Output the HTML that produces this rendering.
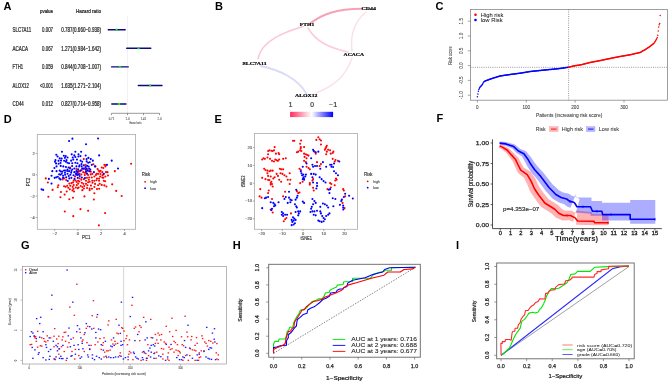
<!DOCTYPE html><html><head><meta charset="utf-8"><style>html,body{margin:0;padding:0;background:#fff;width:669px;height:382px;overflow:hidden}svg{display:block;filter:blur(0.3px)}text{font-family:"Liberation Sans",sans-serif}</style></head><body><svg width="669" height="382" viewBox="0 0 669 382"><text x="3.40" y="9.70" font-size="11" text-anchor="start" font-weight="bold" fill="#000" >A</text>
<text x="215.00" y="9.90" font-size="11" text-anchor="start" font-weight="bold" fill="#000" >B</text>
<text x="435.60" y="10.30" font-size="11" text-anchor="start" font-weight="bold" fill="#000" >C</text>
<text x="3.70" y="122.70" font-size="11" text-anchor="start" font-weight="bold" fill="#000" >D</text>
<text x="214.60" y="122.70" font-size="11" text-anchor="start" font-weight="bold" fill="#000" >E</text>
<text x="436.50" y="122.00" font-size="11" text-anchor="start" font-weight="bold" fill="#000" >F</text>
<text x="21.00" y="249.30" font-size="11" text-anchor="start" font-weight="bold" fill="#000" >G</text>
<text x="232.80" y="249.10" font-size="11" text-anchor="start" font-weight="bold" fill="#000" >H</text>
<text x="456.00" y="248.70" font-size="11" text-anchor="start" font-weight="bold" fill="#000" >I</text>
<text x="40.00" y="12.70" font-size="5.2" text-anchor="start" font-weight="normal" fill="#222" textLength="13.00" lengthAdjust="spacingAndGlyphs"  stroke="#222" stroke-width="0.22">pvalue</text>
<text x="75.90" y="12.70" font-size="5.2" text-anchor="start" font-weight="normal" fill="#222" textLength="25.10" lengthAdjust="spacingAndGlyphs"  stroke="#222" stroke-width="0.22">Hazard ratio</text>
<line x1="127.60" y1="16.00" x2="127.60" y2="113.30" stroke="#e6e6e6" stroke-width="0.6" />
<text x="12.50" y="32.00" font-size="6.5" text-anchor="start" font-weight="normal" fill="#222" textLength="18.70" lengthAdjust="spacingAndGlyphs"  stroke="#222" stroke-width="0.22">SLC7A11</text>
<text x="53.00" y="32.00" font-size="6.5" text-anchor="end" font-weight="normal" fill="#222" textLength="10.90" lengthAdjust="spacingAndGlyphs"  stroke="#222" stroke-width="0.22">0.007</text>
<text x="101.00" y="32.00" font-size="6.5" text-anchor="end" font-weight="normal" fill="#222" textLength="39.80" lengthAdjust="spacingAndGlyphs"  stroke="#222" stroke-width="0.22">0.787(0.660−0.938)</text>
<line x1="108.20" y1="29.70" x2="125.20" y2="29.70" stroke="#0a0a80" stroke-width="1.4" stroke-linecap="round"/>
<rect x="115.60" y="28.70" width="2.00" height="2.00" fill="#22e822" stroke="none" stroke-width="1" />
<text x="12.50" y="50.58" font-size="6.5" text-anchor="start" font-weight="normal" fill="#222" textLength="15.50" lengthAdjust="spacingAndGlyphs"  stroke="#222" stroke-width="0.22">ACACA</text>
<text x="53.00" y="50.58" font-size="6.5" text-anchor="end" font-weight="normal" fill="#222" textLength="10.90" lengthAdjust="spacingAndGlyphs"  stroke="#222" stroke-width="0.22">0.067</text>
<text x="101.00" y="50.58" font-size="6.5" text-anchor="end" font-weight="normal" fill="#222" textLength="39.80" lengthAdjust="spacingAndGlyphs"  stroke="#222" stroke-width="0.22">1.271(0.984−1.642)</text>
<line x1="126.70" y1="48.28" x2="150.80" y2="48.28" stroke="#0a0a80" stroke-width="1.4" stroke-linecap="round"/>
<rect x="137.60" y="47.28" width="2.00" height="2.00" fill="#22e822" stroke="none" stroke-width="1" />
<text x="12.50" y="69.16" font-size="6.5" text-anchor="start" font-weight="normal" fill="#222" textLength="10.50" lengthAdjust="spacingAndGlyphs"  stroke="#222" stroke-width="0.22">FTH1</text>
<text x="53.00" y="69.16" font-size="6.5" text-anchor="end" font-weight="normal" fill="#222" textLength="10.90" lengthAdjust="spacingAndGlyphs"  stroke="#222" stroke-width="0.22">0.059</text>
<text x="101.00" y="69.16" font-size="6.5" text-anchor="end" font-weight="normal" fill="#222" textLength="39.80" lengthAdjust="spacingAndGlyphs"  stroke="#222" stroke-width="0.22">0.844(0.708−1.007)</text>
<line x1="111.50" y1="66.86" x2="128.30" y2="66.86" stroke="#0a0a80" stroke-width="1.4" stroke-linecap="round"/>
<rect x="118.90" y="65.86" width="2.00" height="2.00" fill="#22e822" stroke="none" stroke-width="1" />
<text x="12.50" y="87.74" font-size="6.5" text-anchor="start" font-weight="normal" fill="#222" textLength="16.30" lengthAdjust="spacingAndGlyphs"  stroke="#222" stroke-width="0.22">ALOX12</text>
<text x="53.00" y="87.74" font-size="6.5" text-anchor="end" font-weight="normal" fill="#222" textLength="12.90" lengthAdjust="spacingAndGlyphs"  stroke="#222" stroke-width="0.22">&lt;0.001</text>
<text x="101.00" y="87.74" font-size="6.5" text-anchor="end" font-weight="normal" fill="#222" textLength="39.80" lengthAdjust="spacingAndGlyphs"  stroke="#222" stroke-width="0.22">1.635(1.271−2.104)</text>
<line x1="138.30" y1="85.44" x2="162.00" y2="85.44" stroke="#0a0a80" stroke-width="1.4" stroke-linecap="round"/>
<rect x="149.10" y="84.44" width="2.00" height="2.00" fill="#22e822" stroke="none" stroke-width="1" />
<text x="12.50" y="106.32" font-size="6.5" text-anchor="start" font-weight="normal" fill="#222" textLength="11.30" lengthAdjust="spacingAndGlyphs"  stroke="#222" stroke-width="0.22">CD44</text>
<text x="53.00" y="106.32" font-size="6.5" text-anchor="end" font-weight="normal" fill="#222" textLength="10.90" lengthAdjust="spacingAndGlyphs"  stroke="#222" stroke-width="0.22">0.012</text>
<text x="101.00" y="106.32" font-size="6.5" text-anchor="end" font-weight="normal" fill="#222" textLength="39.80" lengthAdjust="spacingAndGlyphs"  stroke="#222" stroke-width="0.22">0.827(0.714−0.958)</text>
<line x1="111.80" y1="104.02" x2="126.00" y2="104.02" stroke="#0a0a80" stroke-width="1.4" stroke-linecap="round"/>
<rect x="118.00" y="103.02" width="2.00" height="2.00" fill="#22e822" stroke="none" stroke-width="1" />
<line x1="111.50" y1="113.30" x2="159.50" y2="113.30" stroke="#555" stroke-width="0.6" />
<line x1="111.50" y1="113.30" x2="111.50" y2="115.20" stroke="#555" stroke-width="0.6" />
<text x="111.50" y="119.60" font-size="2.8" text-anchor="middle" font-weight="normal" fill="#555"  stroke="#555" stroke-width="0.08">0.71</text>
<line x1="127.50" y1="113.30" x2="127.50" y2="115.20" stroke="#555" stroke-width="0.6" />
<text x="127.50" y="119.60" font-size="2.8" text-anchor="middle" font-weight="normal" fill="#555"  stroke="#555" stroke-width="0.08">1.0</text>
<line x1="143.50" y1="113.30" x2="143.50" y2="115.20" stroke="#555" stroke-width="0.6" />
<text x="143.50" y="119.60" font-size="2.8" text-anchor="middle" font-weight="normal" fill="#555"  stroke="#555" stroke-width="0.08">1.41</text>
<line x1="159.50" y1="113.30" x2="159.50" y2="115.20" stroke="#555" stroke-width="0.6" />
<text x="159.50" y="119.60" font-size="2.8" text-anchor="middle" font-weight="normal" fill="#555"  stroke="#555" stroke-width="0.08">2.0</text>
<text x="135.40" y="123.60" font-size="3.0" text-anchor="middle" font-weight="normal" fill="#555" textLength="12.00" lengthAdjust="spacingAndGlyphs"  stroke="#555" stroke-width="0.09">Hazard ratio</text>
<path d="M310,23.6 C322,14 336,9 362,8.8" stroke="#f6a2b6" stroke-width="2.1" fill="none" stroke-opacity="1" stroke-linecap="round"/>
<path d="M303,26.5 C285,32 262,40 258,58.5" stroke="#f9c8d3" stroke-width="1.6" fill="none" stroke-opacity="1" stroke-linecap="round"/>
<path d="M308,28 C316,42 330,48 348,52" stroke="#facdd7" stroke-width="1.6" fill="none" stroke-opacity="1" stroke-linecap="round"/>
<path d="M366,12 C354,22 350,35 352,51" stroke="#fde0e7" stroke-width="1.5" fill="none" stroke-opacity="1" stroke-linecap="round"/>
<path d="M352,58 C346,76 334,86 316,93" stroke="#fde2e8" stroke-width="1.5" fill="none" stroke-opacity="1" stroke-linecap="round"/>
<path d="M260.6,66 C280,70 298,79 306,93" stroke="#d9d9f8" stroke-width="1.8" fill="none" stroke-opacity="1" stroke-linecap="round"/>
<text x="299.80" y="26.40" style='font-family:"Liberation Serif", serif' font-size="5.0" font-weight="bold" fill="#000" stroke="#000" stroke-width="0.2" textLength="14.40" lengthAdjust="spacingAndGlyphs">FTH1</text>
<text x="361.50" y="10.20" style='font-family:"Liberation Serif", serif' font-size="5.0" font-weight="bold" fill="#000" stroke="#000" stroke-width="0.2" textLength="14.50" lengthAdjust="spacingAndGlyphs">CD44</text>
<text x="343.60" y="55.80" style='font-family:"Liberation Serif", serif' font-size="5.0" font-weight="bold" fill="#000" stroke="#000" stroke-width="0.2" textLength="20.40" lengthAdjust="spacingAndGlyphs">ACACA</text>
<text x="242.50" y="64.80" style='font-family:"Liberation Serif", serif' font-size="5.0" font-weight="bold" fill="#000" stroke="#000" stroke-width="0.2" textLength="24.10" lengthAdjust="spacingAndGlyphs">SLC7A11</text>
<text x="295.00" y="97.10" style='font-family:"Liberation Serif", serif' font-size="5.0" font-weight="bold" fill="#000" stroke="#000" stroke-width="0.2" textLength="22.50" lengthAdjust="spacingAndGlyphs">ALOX12</text>
<defs><linearGradient id="gr" x1="0" x2="1" y1="0" y2="0"><stop offset="0" stop-color="#ff2c5c"/><stop offset="0.5" stop-color="#ffffff"/><stop offset="1" stop-color="#0000ff"/></linearGradient></defs>
<rect x="290.10" y="111.80" width="43.00" height="5.30" fill="url(#gr)" stroke="none" stroke-width="1" />
<text x="290.60" y="106.70" font-size="6.6" text-anchor="middle" font-weight="normal" fill="#333"  stroke="#333" stroke-width="0.18">1</text>
<text x="312.00" y="106.70" font-size="6.6" text-anchor="middle" font-weight="normal" fill="#333"  stroke="#333" stroke-width="0.18">0</text>
<text x="333.10" y="106.70" font-size="6.6" text-anchor="middle" font-weight="normal" fill="#333" textLength="8.20" lengthAdjust="spacingAndGlyphs"  stroke="#333" stroke-width="0.18">−1</text>
<rect x="470.40" y="9.40" width="197.00" height="90.80" fill="none" stroke="#888" stroke-width="0.8" />
<line x1="568.60" y1="9.40" x2="568.60" y2="100.20" stroke="#555" stroke-width="0.6" stroke-dasharray="1,1.2"/>
<line x1="470.40" y1="67.30" x2="667.40" y2="67.30" stroke="#555" stroke-width="0.6" stroke-dasharray="1,1.2"/>
<circle cx="477.40" cy="96.84" r="0.75" fill="#0000ff"/>
<circle cx="477.89" cy="94.08" r="0.75" fill="#0000ff"/>
<circle cx="478.38" cy="91.22" r="0.75" fill="#0000ff"/>
<circle cx="478.87" cy="89.45" r="0.75" fill="#0000ff"/>
<circle cx="479.35" cy="88.26" r="0.75" fill="#0000ff"/>
<circle cx="479.84" cy="87.51" r="0.75" fill="#0000ff"/>
<circle cx="480.33" cy="86.76" r="0.75" fill="#0000ff"/>
<circle cx="480.82" cy="86.18" r="0.75" fill="#0000ff"/>
<circle cx="481.31" cy="85.69" r="0.75" fill="#0000ff"/>
<circle cx="481.80" cy="85.20" r="0.75" fill="#0000ff"/>
<circle cx="482.29" cy="84.50" r="0.75" fill="#0000ff"/>
<circle cx="482.78" cy="83.64" r="0.75" fill="#0000ff"/>
<circle cx="483.26" cy="82.79" r="0.75" fill="#0000ff"/>
<circle cx="483.75" cy="81.93" r="0.75" fill="#0000ff"/>
<circle cx="484.24" cy="81.40" r="0.75" fill="#0000ff"/>
<circle cx="484.73" cy="81.21" r="0.75" fill="#0000ff"/>
<circle cx="485.22" cy="81.01" r="0.75" fill="#0000ff"/>
<circle cx="485.71" cy="80.82" r="0.75" fill="#0000ff"/>
<circle cx="486.20" cy="80.62" r="0.75" fill="#0000ff"/>
<circle cx="486.69" cy="80.43" r="0.75" fill="#0000ff"/>
<circle cx="487.17" cy="80.24" r="0.75" fill="#0000ff"/>
<circle cx="487.66" cy="80.06" r="0.75" fill="#0000ff"/>
<circle cx="488.15" cy="79.89" r="0.75" fill="#0000ff"/>
<circle cx="488.64" cy="79.71" r="0.75" fill="#0000ff"/>
<circle cx="489.13" cy="79.53" r="0.75" fill="#0000ff"/>
<circle cx="489.62" cy="79.36" r="0.75" fill="#0000ff"/>
<circle cx="490.11" cy="79.18" r="0.75" fill="#0000ff"/>
<circle cx="490.59" cy="79.01" r="0.75" fill="#0000ff"/>
<circle cx="491.08" cy="78.83" r="0.75" fill="#0000ff"/>
<circle cx="491.57" cy="78.65" r="0.75" fill="#0000ff"/>
<circle cx="492.06" cy="78.48" r="0.75" fill="#0000ff"/>
<circle cx="492.55" cy="78.33" r="0.75" fill="#0000ff"/>
<circle cx="493.04" cy="78.18" r="0.75" fill="#0000ff"/>
<circle cx="493.53" cy="78.02" r="0.75" fill="#0000ff"/>
<circle cx="494.02" cy="77.87" r="0.75" fill="#0000ff"/>
<circle cx="494.50" cy="77.72" r="0.75" fill="#0000ff"/>
<circle cx="494.99" cy="77.56" r="0.75" fill="#0000ff"/>
<circle cx="495.48" cy="77.41" r="0.75" fill="#0000ff"/>
<circle cx="495.97" cy="77.26" r="0.75" fill="#0000ff"/>
<circle cx="496.46" cy="77.11" r="0.75" fill="#0000ff"/>
<circle cx="496.95" cy="76.95" r="0.75" fill="#0000ff"/>
<circle cx="497.44" cy="76.80" r="0.75" fill="#0000ff"/>
<circle cx="497.93" cy="76.65" r="0.75" fill="#0000ff"/>
<circle cx="498.41" cy="76.50" r="0.75" fill="#0000ff"/>
<circle cx="498.90" cy="76.34" r="0.75" fill="#0000ff"/>
<circle cx="499.39" cy="76.19" r="0.75" fill="#0000ff"/>
<circle cx="499.88" cy="76.04" r="0.75" fill="#0000ff"/>
<circle cx="500.37" cy="75.94" r="0.75" fill="#0000ff"/>
<circle cx="500.86" cy="75.87" r="0.75" fill="#0000ff"/>
<circle cx="501.35" cy="75.80" r="0.75" fill="#0000ff"/>
<circle cx="501.83" cy="75.72" r="0.75" fill="#0000ff"/>
<circle cx="502.32" cy="75.65" r="0.75" fill="#0000ff"/>
<circle cx="502.81" cy="75.58" r="0.75" fill="#0000ff"/>
<circle cx="503.30" cy="75.50" r="0.75" fill="#0000ff"/>
<circle cx="503.79" cy="75.43" r="0.75" fill="#0000ff"/>
<circle cx="504.28" cy="75.36" r="0.75" fill="#0000ff"/>
<circle cx="504.77" cy="75.28" r="0.75" fill="#0000ff"/>
<circle cx="505.26" cy="75.21" r="0.75" fill="#0000ff"/>
<circle cx="505.74" cy="75.14" r="0.75" fill="#0000ff"/>
<circle cx="506.23" cy="75.07" r="0.75" fill="#0000ff"/>
<circle cx="506.72" cy="74.99" r="0.75" fill="#0000ff"/>
<circle cx="507.21" cy="74.92" r="0.75" fill="#0000ff"/>
<circle cx="507.70" cy="74.85" r="0.75" fill="#0000ff"/>
<circle cx="508.19" cy="74.77" r="0.75" fill="#0000ff"/>
<circle cx="508.68" cy="74.70" r="0.75" fill="#0000ff"/>
<circle cx="509.17" cy="74.63" r="0.75" fill="#0000ff"/>
<circle cx="509.65" cy="74.55" r="0.75" fill="#0000ff"/>
<circle cx="510.14" cy="74.48" r="0.75" fill="#0000ff"/>
<circle cx="510.63" cy="74.42" r="0.75" fill="#0000ff"/>
<circle cx="511.12" cy="74.35" r="0.75" fill="#0000ff"/>
<circle cx="511.61" cy="74.29" r="0.75" fill="#0000ff"/>
<circle cx="512.10" cy="74.23" r="0.75" fill="#0000ff"/>
<circle cx="512.59" cy="74.16" r="0.75" fill="#0000ff"/>
<circle cx="513.08" cy="74.10" r="0.75" fill="#0000ff"/>
<circle cx="513.56" cy="74.04" r="0.75" fill="#0000ff"/>
<circle cx="514.05" cy="73.97" r="0.75" fill="#0000ff"/>
<circle cx="514.54" cy="73.91" r="0.75" fill="#0000ff"/>
<circle cx="515.03" cy="73.85" r="0.75" fill="#0000ff"/>
<circle cx="515.52" cy="73.78" r="0.75" fill="#0000ff"/>
<circle cx="516.01" cy="73.72" r="0.75" fill="#0000ff"/>
<circle cx="516.50" cy="73.66" r="0.75" fill="#0000ff"/>
<circle cx="516.98" cy="73.59" r="0.75" fill="#0000ff"/>
<circle cx="517.47" cy="73.53" r="0.75" fill="#0000ff"/>
<circle cx="517.96" cy="73.46" r="0.75" fill="#0000ff"/>
<circle cx="518.45" cy="73.40" r="0.75" fill="#0000ff"/>
<circle cx="518.94" cy="73.34" r="0.75" fill="#0000ff"/>
<circle cx="519.43" cy="73.27" r="0.75" fill="#0000ff"/>
<circle cx="519.92" cy="73.21" r="0.75" fill="#0000ff"/>
<circle cx="520.41" cy="73.13" r="0.75" fill="#0000ff"/>
<circle cx="520.89" cy="73.05" r="0.75" fill="#0000ff"/>
<circle cx="521.38" cy="72.96" r="0.75" fill="#0000ff"/>
<circle cx="521.87" cy="72.88" r="0.75" fill="#0000ff"/>
<circle cx="522.36" cy="72.80" r="0.75" fill="#0000ff"/>
<circle cx="522.85" cy="72.72" r="0.75" fill="#0000ff"/>
<circle cx="523.34" cy="72.63" r="0.75" fill="#0000ff"/>
<circle cx="523.83" cy="72.55" r="0.75" fill="#0000ff"/>
<circle cx="524.32" cy="72.47" r="0.75" fill="#0000ff"/>
<circle cx="524.80" cy="72.38" r="0.75" fill="#0000ff"/>
<circle cx="525.29" cy="72.30" r="0.75" fill="#0000ff"/>
<circle cx="525.78" cy="72.22" r="0.75" fill="#0000ff"/>
<circle cx="526.27" cy="72.13" r="0.75" fill="#0000ff"/>
<circle cx="526.76" cy="72.05" r="0.75" fill="#0000ff"/>
<circle cx="527.25" cy="71.97" r="0.75" fill="#0000ff"/>
<circle cx="527.74" cy="71.88" r="0.75" fill="#0000ff"/>
<circle cx="528.22" cy="71.80" r="0.75" fill="#0000ff"/>
<circle cx="528.71" cy="71.72" r="0.75" fill="#0000ff"/>
<circle cx="529.20" cy="71.64" r="0.75" fill="#0000ff"/>
<circle cx="529.69" cy="71.55" r="0.75" fill="#0000ff"/>
<circle cx="530.18" cy="71.48" r="0.75" fill="#0000ff"/>
<circle cx="530.67" cy="71.43" r="0.75" fill="#0000ff"/>
<circle cx="531.16" cy="71.38" r="0.75" fill="#0000ff"/>
<circle cx="531.65" cy="71.34" r="0.75" fill="#0000ff"/>
<circle cx="532.13" cy="71.29" r="0.75" fill="#0000ff"/>
<circle cx="532.62" cy="71.24" r="0.75" fill="#0000ff"/>
<circle cx="533.11" cy="71.19" r="0.75" fill="#0000ff"/>
<circle cx="533.60" cy="71.14" r="0.75" fill="#0000ff"/>
<circle cx="534.09" cy="71.09" r="0.75" fill="#0000ff"/>
<circle cx="534.58" cy="71.04" r="0.75" fill="#0000ff"/>
<circle cx="535.07" cy="70.99" r="0.75" fill="#0000ff"/>
<circle cx="535.56" cy="70.94" r="0.75" fill="#0000ff"/>
<circle cx="536.04" cy="70.90" r="0.75" fill="#0000ff"/>
<circle cx="536.53" cy="70.85" r="0.75" fill="#0000ff"/>
<circle cx="537.02" cy="70.80" r="0.75" fill="#0000ff"/>
<circle cx="537.51" cy="70.75" r="0.75" fill="#0000ff"/>
<circle cx="538.00" cy="70.70" r="0.75" fill="#0000ff"/>
<circle cx="538.49" cy="70.65" r="0.75" fill="#0000ff"/>
<circle cx="538.98" cy="70.60" r="0.75" fill="#0000ff"/>
<circle cx="539.46" cy="70.55" r="0.75" fill="#0000ff"/>
<circle cx="539.95" cy="70.50" r="0.75" fill="#0000ff"/>
<circle cx="540.44" cy="70.46" r="0.75" fill="#0000ff"/>
<circle cx="540.93" cy="70.41" r="0.75" fill="#0000ff"/>
<circle cx="541.42" cy="70.36" r="0.75" fill="#0000ff"/>
<circle cx="541.91" cy="70.31" r="0.75" fill="#0000ff"/>
<circle cx="542.40" cy="70.26" r="0.75" fill="#0000ff"/>
<circle cx="542.89" cy="70.21" r="0.75" fill="#0000ff"/>
<circle cx="543.37" cy="70.16" r="0.75" fill="#0000ff"/>
<circle cx="543.86" cy="70.11" r="0.75" fill="#0000ff"/>
<circle cx="544.35" cy="70.06" r="0.75" fill="#0000ff"/>
<circle cx="544.84" cy="70.02" r="0.75" fill="#0000ff"/>
<circle cx="545.33" cy="69.97" r="0.75" fill="#0000ff"/>
<circle cx="545.82" cy="69.92" r="0.75" fill="#0000ff"/>
<circle cx="546.31" cy="69.87" r="0.75" fill="#0000ff"/>
<circle cx="546.80" cy="69.82" r="0.75" fill="#0000ff"/>
<circle cx="547.28" cy="69.77" r="0.75" fill="#0000ff"/>
<circle cx="547.77" cy="69.72" r="0.75" fill="#0000ff"/>
<circle cx="548.26" cy="69.67" r="0.75" fill="#0000ff"/>
<circle cx="548.75" cy="69.62" r="0.75" fill="#0000ff"/>
<circle cx="549.24" cy="69.58" r="0.75" fill="#0000ff"/>
<circle cx="549.73" cy="69.53" r="0.75" fill="#0000ff"/>
<circle cx="550.22" cy="69.48" r="0.75" fill="#0000ff"/>
<circle cx="550.70" cy="69.43" r="0.75" fill="#0000ff"/>
<circle cx="551.19" cy="69.38" r="0.75" fill="#0000ff"/>
<circle cx="551.68" cy="69.33" r="0.75" fill="#0000ff"/>
<circle cx="552.17" cy="69.28" r="0.75" fill="#0000ff"/>
<circle cx="552.66" cy="69.23" r="0.75" fill="#0000ff"/>
<circle cx="553.15" cy="69.19" r="0.75" fill="#0000ff"/>
<circle cx="553.64" cy="69.14" r="0.75" fill="#0000ff"/>
<circle cx="554.13" cy="69.09" r="0.75" fill="#0000ff"/>
<circle cx="554.61" cy="69.04" r="0.75" fill="#0000ff"/>
<circle cx="555.10" cy="68.99" r="0.75" fill="#0000ff"/>
<circle cx="555.59" cy="68.94" r="0.75" fill="#0000ff"/>
<circle cx="556.08" cy="68.89" r="0.75" fill="#0000ff"/>
<circle cx="556.57" cy="68.84" r="0.75" fill="#0000ff"/>
<circle cx="557.06" cy="68.79" r="0.75" fill="#0000ff"/>
<circle cx="557.55" cy="68.75" r="0.75" fill="#0000ff"/>
<circle cx="558.04" cy="68.70" r="0.75" fill="#0000ff"/>
<circle cx="558.52" cy="68.65" r="0.75" fill="#0000ff"/>
<circle cx="559.01" cy="68.60" r="0.75" fill="#0000ff"/>
<circle cx="559.50" cy="68.55" r="0.75" fill="#0000ff"/>
<circle cx="559.99" cy="68.50" r="0.75" fill="#0000ff"/>
<circle cx="560.48" cy="68.43" r="0.75" fill="#0000ff"/>
<circle cx="560.97" cy="68.35" r="0.75" fill="#0000ff"/>
<circle cx="561.46" cy="68.28" r="0.75" fill="#0000ff"/>
<circle cx="561.95" cy="68.20" r="0.75" fill="#0000ff"/>
<circle cx="562.43" cy="68.13" r="0.75" fill="#0000ff"/>
<circle cx="562.92" cy="68.05" r="0.75" fill="#0000ff"/>
<circle cx="563.41" cy="67.98" r="0.75" fill="#0000ff"/>
<circle cx="563.90" cy="67.90" r="0.75" fill="#0000ff"/>
<circle cx="564.39" cy="67.83" r="0.75" fill="#0000ff"/>
<circle cx="564.88" cy="67.75" r="0.75" fill="#0000ff"/>
<circle cx="565.37" cy="67.68" r="0.75" fill="#0000ff"/>
<circle cx="565.85" cy="67.60" r="0.75" fill="#0000ff"/>
<circle cx="566.34" cy="67.53" r="0.75" fill="#0000ff"/>
<circle cx="566.83" cy="67.46" r="0.75" fill="#0000ff"/>
<circle cx="567.32" cy="67.38" r="0.75" fill="#0000ff"/>
<circle cx="567.81" cy="67.31" r="0.75" fill="#0000ff"/>
<circle cx="568.30" cy="67.23" r="0.75" fill="#0000ff"/>
<circle cx="568.79" cy="67.13" r="0.75" fill="#ff0000"/>
<circle cx="569.28" cy="67.02" r="0.75" fill="#ff0000"/>
<circle cx="569.76" cy="66.91" r="0.75" fill="#ff0000"/>
<circle cx="570.25" cy="66.80" r="0.75" fill="#ff0000"/>
<circle cx="570.74" cy="66.68" r="0.75" fill="#ff0000"/>
<circle cx="571.23" cy="66.57" r="0.75" fill="#ff0000"/>
<circle cx="571.72" cy="66.46" r="0.75" fill="#ff0000"/>
<circle cx="572.21" cy="66.34" r="0.75" fill="#ff0000"/>
<circle cx="572.70" cy="66.23" r="0.75" fill="#ff0000"/>
<circle cx="573.19" cy="66.12" r="0.75" fill="#ff0000"/>
<circle cx="573.67" cy="66.01" r="0.75" fill="#ff0000"/>
<circle cx="574.16" cy="65.89" r="0.75" fill="#ff0000"/>
<circle cx="574.65" cy="65.78" r="0.75" fill="#ff0000"/>
<circle cx="575.14" cy="65.68" r="0.75" fill="#ff0000"/>
<circle cx="575.63" cy="65.61" r="0.75" fill="#ff0000"/>
<circle cx="576.12" cy="65.54" r="0.75" fill="#ff0000"/>
<circle cx="576.61" cy="65.48" r="0.75" fill="#ff0000"/>
<circle cx="577.09" cy="65.41" r="0.75" fill="#ff0000"/>
<circle cx="577.58" cy="65.34" r="0.75" fill="#ff0000"/>
<circle cx="578.07" cy="65.27" r="0.75" fill="#ff0000"/>
<circle cx="578.56" cy="65.20" r="0.75" fill="#ff0000"/>
<circle cx="579.05" cy="65.13" r="0.75" fill="#ff0000"/>
<circle cx="579.54" cy="65.06" r="0.75" fill="#ff0000"/>
<circle cx="580.03" cy="64.99" r="0.75" fill="#ff0000"/>
<circle cx="580.52" cy="64.87" r="0.75" fill="#ff0000"/>
<circle cx="581.00" cy="64.75" r="0.75" fill="#ff0000"/>
<circle cx="581.49" cy="64.63" r="0.75" fill="#ff0000"/>
<circle cx="581.98" cy="64.50" r="0.75" fill="#ff0000"/>
<circle cx="582.47" cy="64.38" r="0.75" fill="#ff0000"/>
<circle cx="582.96" cy="64.26" r="0.75" fill="#ff0000"/>
<circle cx="583.45" cy="64.14" r="0.75" fill="#ff0000"/>
<circle cx="583.94" cy="64.02" r="0.75" fill="#ff0000"/>
<circle cx="584.43" cy="63.89" r="0.75" fill="#ff0000"/>
<circle cx="584.91" cy="63.77" r="0.75" fill="#ff0000"/>
<circle cx="585.40" cy="63.65" r="0.75" fill="#ff0000"/>
<circle cx="585.89" cy="63.53" r="0.75" fill="#ff0000"/>
<circle cx="586.38" cy="63.40" r="0.75" fill="#ff0000"/>
<circle cx="586.87" cy="63.28" r="0.75" fill="#ff0000"/>
<circle cx="587.36" cy="63.16" r="0.75" fill="#ff0000"/>
<circle cx="587.85" cy="63.04" r="0.75" fill="#ff0000"/>
<circle cx="588.33" cy="62.92" r="0.75" fill="#ff0000"/>
<circle cx="588.82" cy="62.79" r="0.75" fill="#ff0000"/>
<circle cx="589.31" cy="62.67" r="0.75" fill="#ff0000"/>
<circle cx="589.80" cy="62.55" r="0.75" fill="#ff0000"/>
<circle cx="590.29" cy="62.44" r="0.75" fill="#ff0000"/>
<circle cx="590.78" cy="62.35" r="0.75" fill="#ff0000"/>
<circle cx="591.27" cy="62.26" r="0.75" fill="#ff0000"/>
<circle cx="591.76" cy="62.17" r="0.75" fill="#ff0000"/>
<circle cx="592.24" cy="62.07" r="0.75" fill="#ff0000"/>
<circle cx="592.73" cy="61.98" r="0.75" fill="#ff0000"/>
<circle cx="593.22" cy="61.89" r="0.75" fill="#ff0000"/>
<circle cx="593.71" cy="61.79" r="0.75" fill="#ff0000"/>
<circle cx="594.20" cy="61.70" r="0.75" fill="#ff0000"/>
<circle cx="594.69" cy="61.61" r="0.75" fill="#ff0000"/>
<circle cx="595.18" cy="61.52" r="0.75" fill="#ff0000"/>
<circle cx="595.67" cy="61.42" r="0.75" fill="#ff0000"/>
<circle cx="596.15" cy="61.33" r="0.75" fill="#ff0000"/>
<circle cx="596.64" cy="61.24" r="0.75" fill="#ff0000"/>
<circle cx="597.13" cy="61.15" r="0.75" fill="#ff0000"/>
<circle cx="597.62" cy="61.05" r="0.75" fill="#ff0000"/>
<circle cx="598.11" cy="60.96" r="0.75" fill="#ff0000"/>
<circle cx="598.60" cy="60.87" r="0.75" fill="#ff0000"/>
<circle cx="599.09" cy="60.77" r="0.75" fill="#ff0000"/>
<circle cx="599.58" cy="60.68" r="0.75" fill="#ff0000"/>
<circle cx="600.06" cy="60.59" r="0.75" fill="#ff0000"/>
<circle cx="600.55" cy="60.48" r="0.75" fill="#ff0000"/>
<circle cx="601.04" cy="60.38" r="0.75" fill="#ff0000"/>
<circle cx="601.53" cy="60.28" r="0.75" fill="#ff0000"/>
<circle cx="602.02" cy="60.18" r="0.75" fill="#ff0000"/>
<circle cx="602.51" cy="60.07" r="0.75" fill="#ff0000"/>
<circle cx="603.00" cy="59.97" r="0.75" fill="#ff0000"/>
<circle cx="603.48" cy="59.87" r="0.75" fill="#ff0000"/>
<circle cx="603.97" cy="59.77" r="0.75" fill="#ff0000"/>
<circle cx="604.46" cy="59.66" r="0.75" fill="#ff0000"/>
<circle cx="604.95" cy="59.56" r="0.75" fill="#ff0000"/>
<circle cx="605.44" cy="59.46" r="0.75" fill="#ff0000"/>
<circle cx="605.93" cy="59.36" r="0.75" fill="#ff0000"/>
<circle cx="606.42" cy="59.25" r="0.75" fill="#ff0000"/>
<circle cx="606.91" cy="59.15" r="0.75" fill="#ff0000"/>
<circle cx="607.39" cy="59.05" r="0.75" fill="#ff0000"/>
<circle cx="607.88" cy="58.94" r="0.75" fill="#ff0000"/>
<circle cx="608.37" cy="58.84" r="0.75" fill="#ff0000"/>
<circle cx="608.86" cy="58.74" r="0.75" fill="#ff0000"/>
<circle cx="609.35" cy="58.64" r="0.75" fill="#ff0000"/>
<circle cx="609.84" cy="58.53" r="0.75" fill="#ff0000"/>
<circle cx="610.33" cy="58.43" r="0.75" fill="#ff0000"/>
<circle cx="610.82" cy="58.34" r="0.75" fill="#ff0000"/>
<circle cx="611.30" cy="58.24" r="0.75" fill="#ff0000"/>
<circle cx="611.79" cy="58.14" r="0.75" fill="#ff0000"/>
<circle cx="612.28" cy="58.04" r="0.75" fill="#ff0000"/>
<circle cx="612.77" cy="57.95" r="0.75" fill="#ff0000"/>
<circle cx="613.26" cy="57.85" r="0.75" fill="#ff0000"/>
<circle cx="613.75" cy="57.75" r="0.75" fill="#ff0000"/>
<circle cx="614.24" cy="57.65" r="0.75" fill="#ff0000"/>
<circle cx="614.72" cy="57.56" r="0.75" fill="#ff0000"/>
<circle cx="615.21" cy="57.46" r="0.75" fill="#ff0000"/>
<circle cx="615.70" cy="57.36" r="0.75" fill="#ff0000"/>
<circle cx="616.19" cy="57.26" r="0.75" fill="#ff0000"/>
<circle cx="616.68" cy="57.16" r="0.75" fill="#ff0000"/>
<circle cx="617.17" cy="57.07" r="0.75" fill="#ff0000"/>
<circle cx="617.66" cy="56.97" r="0.75" fill="#ff0000"/>
<circle cx="618.15" cy="56.87" r="0.75" fill="#ff0000"/>
<circle cx="618.63" cy="56.77" r="0.75" fill="#ff0000"/>
<circle cx="619.12" cy="56.68" r="0.75" fill="#ff0000"/>
<circle cx="619.61" cy="56.58" r="0.75" fill="#ff0000"/>
<circle cx="620.10" cy="56.48" r="0.75" fill="#ff0000"/>
<circle cx="620.59" cy="56.40" r="0.75" fill="#ff0000"/>
<circle cx="621.08" cy="56.32" r="0.75" fill="#ff0000"/>
<circle cx="621.57" cy="56.23" r="0.75" fill="#ff0000"/>
<circle cx="622.06" cy="56.15" r="0.75" fill="#ff0000"/>
<circle cx="622.54" cy="56.07" r="0.75" fill="#ff0000"/>
<circle cx="623.03" cy="55.98" r="0.75" fill="#ff0000"/>
<circle cx="623.52" cy="55.90" r="0.75" fill="#ff0000"/>
<circle cx="624.01" cy="55.82" r="0.75" fill="#ff0000"/>
<circle cx="624.50" cy="55.74" r="0.75" fill="#ff0000"/>
<circle cx="624.99" cy="55.65" r="0.75" fill="#ff0000"/>
<circle cx="625.48" cy="55.57" r="0.75" fill="#ff0000"/>
<circle cx="625.96" cy="55.49" r="0.75" fill="#ff0000"/>
<circle cx="626.45" cy="55.40" r="0.75" fill="#ff0000"/>
<circle cx="626.94" cy="55.32" r="0.75" fill="#ff0000"/>
<circle cx="627.43" cy="55.24" r="0.75" fill="#ff0000"/>
<circle cx="627.92" cy="55.15" r="0.75" fill="#ff0000"/>
<circle cx="628.41" cy="55.07" r="0.75" fill="#ff0000"/>
<circle cx="628.90" cy="54.99" r="0.75" fill="#ff0000"/>
<circle cx="629.39" cy="54.90" r="0.75" fill="#ff0000"/>
<circle cx="629.87" cy="54.82" r="0.75" fill="#ff0000"/>
<circle cx="630.36" cy="54.72" r="0.75" fill="#ff0000"/>
<circle cx="630.85" cy="54.60" r="0.75" fill="#ff0000"/>
<circle cx="631.34" cy="54.49" r="0.75" fill="#ff0000"/>
<circle cx="631.83" cy="54.38" r="0.75" fill="#ff0000"/>
<circle cx="632.32" cy="54.27" r="0.75" fill="#ff0000"/>
<circle cx="632.81" cy="54.15" r="0.75" fill="#ff0000"/>
<circle cx="633.30" cy="54.04" r="0.75" fill="#ff0000"/>
<circle cx="633.78" cy="53.93" r="0.75" fill="#ff0000"/>
<circle cx="634.27" cy="53.82" r="0.75" fill="#ff0000"/>
<circle cx="634.76" cy="53.70" r="0.75" fill="#ff0000"/>
<circle cx="635.25" cy="53.59" r="0.75" fill="#ff0000"/>
<circle cx="635.74" cy="53.48" r="0.75" fill="#ff0000"/>
<circle cx="636.23" cy="53.37" r="0.75" fill="#ff0000"/>
<circle cx="636.72" cy="53.26" r="0.75" fill="#ff0000"/>
<circle cx="637.20" cy="53.14" r="0.75" fill="#ff0000"/>
<circle cx="637.69" cy="53.03" r="0.75" fill="#ff0000"/>
<circle cx="638.18" cy="52.92" r="0.75" fill="#ff0000"/>
<circle cx="638.67" cy="52.81" r="0.75" fill="#ff0000"/>
<circle cx="639.16" cy="52.69" r="0.75" fill="#ff0000"/>
<circle cx="639.65" cy="52.58" r="0.75" fill="#ff0000"/>
<circle cx="640.14" cy="52.43" r="0.75" fill="#ff0000"/>
<circle cx="640.63" cy="52.16" r="0.75" fill="#ff0000"/>
<circle cx="641.11" cy="51.90" r="0.75" fill="#ff0000"/>
<circle cx="641.60" cy="51.63" r="0.75" fill="#ff0000"/>
<circle cx="642.09" cy="51.37" r="0.75" fill="#ff0000"/>
<circle cx="642.58" cy="51.11" r="0.75" fill="#ff0000"/>
<circle cx="643.07" cy="50.84" r="0.75" fill="#ff0000"/>
<circle cx="643.56" cy="50.58" r="0.75" fill="#ff0000"/>
<circle cx="644.05" cy="50.31" r="0.75" fill="#ff0000"/>
<circle cx="644.54" cy="50.05" r="0.75" fill="#ff0000"/>
<circle cx="645.02" cy="49.78" r="0.75" fill="#ff0000"/>
<circle cx="645.51" cy="49.45" r="0.75" fill="#ff0000"/>
<circle cx="646.00" cy="49.12" r="0.75" fill="#ff0000"/>
<circle cx="646.49" cy="48.79" r="0.75" fill="#ff0000"/>
<circle cx="646.98" cy="48.45" r="0.75" fill="#ff0000"/>
<circle cx="647.47" cy="48.12" r="0.75" fill="#ff0000"/>
<circle cx="647.96" cy="47.79" r="0.75" fill="#ff0000"/>
<circle cx="648.44" cy="47.46" r="0.75" fill="#ff0000"/>
<circle cx="648.93" cy="47.13" r="0.75" fill="#ff0000"/>
<circle cx="649.42" cy="46.79" r="0.75" fill="#ff0000"/>
<circle cx="649.91" cy="46.46" r="0.75" fill="#ff0000"/>
<circle cx="650.40" cy="46.09" r="0.75" fill="#ff0000"/>
<circle cx="650.89" cy="45.71" r="0.75" fill="#ff0000"/>
<circle cx="651.38" cy="45.33" r="0.75" fill="#ff0000"/>
<circle cx="651.87" cy="44.95" r="0.75" fill="#ff0000"/>
<circle cx="652.35" cy="44.58" r="0.75" fill="#ff0000"/>
<circle cx="652.84" cy="44.20" r="0.75" fill="#ff0000"/>
<circle cx="653.33" cy="43.82" r="0.75" fill="#ff0000"/>
<circle cx="653.82" cy="43.44" r="0.75" fill="#ff0000"/>
<circle cx="654.31" cy="42.80" r="0.75" fill="#ff0000"/>
<circle cx="654.80" cy="42.00" r="0.75" fill="#ff0000"/>
<circle cx="655.29" cy="41.21" r="0.75" fill="#ff0000"/>
<circle cx="655.78" cy="40.41" r="0.75" fill="#ff0000"/>
<circle cx="656.26" cy="39.62" r="0.75" fill="#ff0000"/>
<circle cx="656.75" cy="38.63" r="0.75" fill="#ff0000"/>
<circle cx="657.24" cy="37.56" r="0.75" fill="#ff0000"/>
<circle cx="657.73" cy="35.20" r="0.75" fill="#ff0000"/>
<circle cx="658.22" cy="31.04" r="0.75" fill="#ff0000"/>
<circle cx="658.71" cy="27.11" r="0.75" fill="#ff0000"/>
<circle cx="659.20" cy="24.78" r="0.75" fill="#ff0000"/>
<circle cx="659.69" cy="23.58" r="0.75" fill="#ff0000"/>
<circle cx="660.17" cy="15.40" r="0.75" fill="#ff0000"/>
<line x1="477.40" y1="100.20" x2="477.40" y2="102.60" stroke="#666" stroke-width="0.6" />
<text x="477.40" y="108.90" font-size="4.6" text-anchor="middle" font-weight="normal" fill="#333"  stroke="#333" stroke-width="0.05">0</text>
<line x1="526.27" y1="100.20" x2="526.27" y2="102.60" stroke="#666" stroke-width="0.6" />
<text x="526.27" y="108.90" font-size="4.6" text-anchor="middle" font-weight="normal" fill="#333"  stroke="#333" stroke-width="0.05">100</text>
<line x1="575.14" y1="100.20" x2="575.14" y2="102.60" stroke="#666" stroke-width="0.6" />
<text x="575.14" y="108.90" font-size="4.6" text-anchor="middle" font-weight="normal" fill="#333"  stroke="#333" stroke-width="0.05">200</text>
<line x1="624.01" y1="100.20" x2="624.01" y2="102.60" stroke="#666" stroke-width="0.6" />
<text x="624.01" y="108.90" font-size="4.6" text-anchor="middle" font-weight="normal" fill="#333"  stroke="#333" stroke-width="0.05">300</text>
<line x1="467.80" y1="95.20" x2="470.40" y2="95.20" stroke="#666" stroke-width="0.6" />
<text transform="translate(461.50,95.20) rotate(-90)" x="0" y="1.66" font-size="4.6" text-anchor="middle" font-weight="normal" fill="#333" stroke="#333" stroke-width="0.05">-1.0</text>
<line x1="467.80" y1="80.40" x2="470.40" y2="80.40" stroke="#666" stroke-width="0.6" />
<text transform="translate(461.50,80.40) rotate(-90)" x="0" y="1.66" font-size="4.6" text-anchor="middle" font-weight="normal" fill="#333" stroke="#333" stroke-width="0.05">-0.5</text>
<line x1="467.80" y1="65.60" x2="470.40" y2="65.60" stroke="#666" stroke-width="0.6" />
<text transform="translate(461.50,65.60) rotate(-90)" x="0" y="1.66" font-size="4.6" text-anchor="middle" font-weight="normal" fill="#333" stroke="#333" stroke-width="0.05">0.0</text>
<line x1="467.80" y1="50.80" x2="470.40" y2="50.80" stroke="#666" stroke-width="0.6" />
<text transform="translate(461.50,50.80) rotate(-90)" x="0" y="1.66" font-size="4.6" text-anchor="middle" font-weight="normal" fill="#333" stroke="#333" stroke-width="0.05">0.5</text>
<line x1="467.80" y1="36.00" x2="470.40" y2="36.00" stroke="#666" stroke-width="0.6" />
<text transform="translate(461.50,36.00) rotate(-90)" x="0" y="1.66" font-size="4.6" text-anchor="middle" font-weight="normal" fill="#333" stroke="#333" stroke-width="0.05">1.0</text>
<line x1="467.80" y1="21.20" x2="470.40" y2="21.20" stroke="#666" stroke-width="0.6" />
<text transform="translate(461.50,21.20) rotate(-90)" x="0" y="1.66" font-size="4.6" text-anchor="middle" font-weight="normal" fill="#333" stroke="#333" stroke-width="0.05">1.5</text>
<text transform="translate(450.30,55.50) rotate(-90)" x="0" y="1.73" font-size="4.8" text-anchor="middle" font-weight="normal" fill="#333" stroke="#333" stroke-width="0.05" textLength="18.50" lengthAdjust="spacingAndGlyphs">Risk score</text>
<text x="536.00" y="117.40" font-size="4.6" text-anchor="start" font-weight="normal" fill="#333" textLength="66.30" lengthAdjust="spacingAndGlyphs"  stroke="#333" stroke-width="0.05">Patients (increasing risk score)</text>
<circle cx="475.50" cy="14.70" r="1.3" fill="#ff0000"/>
<text x="480.80" y="16.60" font-size="5.4" text-anchor="start" font-weight="normal" fill="#222" textLength="22.60" lengthAdjust="spacingAndGlyphs"  stroke="#222" stroke-width="0.05">High risk</text>
<circle cx="475.50" cy="20.00" r="1.3" fill="#0000ff"/>
<text x="480.80" y="21.90" font-size="5.4" text-anchor="start" font-weight="normal" fill="#222" textLength="21.80" lengthAdjust="spacingAndGlyphs"  stroke="#222" stroke-width="0.05">low Risk</text>
<rect x="37.30" y="134.40" width="98.30" height="94.90" fill="none" stroke="#aaa" stroke-width="0.8" />
<line x1="35.60" y1="217.50" x2="37.30" y2="217.50" stroke="#777" stroke-width="0.6" />
<text x="34.80" y="218.90" font-size="4.0" text-anchor="end" font-weight="normal" fill="#555"  stroke="#555" stroke-width="0.12">−4</text>
<line x1="35.60" y1="196.20" x2="37.30" y2="196.20" stroke="#777" stroke-width="0.6" />
<text x="34.80" y="197.60" font-size="4.0" text-anchor="end" font-weight="normal" fill="#555"  stroke="#555" stroke-width="0.12">−2</text>
<line x1="35.60" y1="174.90" x2="37.30" y2="174.90" stroke="#777" stroke-width="0.6" />
<text x="34.80" y="176.30" font-size="4.0" text-anchor="end" font-weight="normal" fill="#555"  stroke="#555" stroke-width="0.12">0</text>
<line x1="35.60" y1="153.60" x2="37.30" y2="153.60" stroke="#777" stroke-width="0.6" />
<text x="34.80" y="155.00" font-size="4.0" text-anchor="end" font-weight="normal" fill="#555"  stroke="#555" stroke-width="0.12">2</text>
<line x1="54.60" y1="229.30" x2="54.60" y2="231.00" stroke="#777" stroke-width="0.6" />
<text x="54.60" y="234.80" font-size="4.0" text-anchor="middle" font-weight="normal" fill="#555"  stroke="#555" stroke-width="0.12">−2</text>
<line x1="77.90" y1="229.30" x2="77.90" y2="231.00" stroke="#777" stroke-width="0.6" />
<text x="77.90" y="234.80" font-size="4.0" text-anchor="middle" font-weight="normal" fill="#555"  stroke="#555" stroke-width="0.12">0</text>
<line x1="101.20" y1="229.30" x2="101.20" y2="231.00" stroke="#777" stroke-width="0.6" />
<text x="101.20" y="234.80" font-size="4.0" text-anchor="middle" font-weight="normal" fill="#555"  stroke="#555" stroke-width="0.12">2</text>
<line x1="124.50" y1="229.30" x2="124.50" y2="231.00" stroke="#777" stroke-width="0.6" />
<text x="124.50" y="234.80" font-size="4.0" text-anchor="middle" font-weight="normal" fill="#555"  stroke="#555" stroke-width="0.12">4</text>
<text x="86.20" y="239.30" font-size="5.6" text-anchor="middle" font-weight="normal" fill="#333" textLength="8.60" lengthAdjust="spacingAndGlyphs"  stroke="#333" stroke-width="0.17">PC1</text>
<text transform="translate(28.30,182.00) rotate(-90)" x="0" y="2.02" font-size="5.6" text-anchor="middle" font-weight="normal" fill="#333" stroke="#333" stroke-width="0.17" textLength="8.60" lengthAdjust="spacingAndGlyphs">PC2</text>
<text x="141.80" y="176.20" font-size="4.6" text-anchor="start" font-weight="normal" fill="#333" textLength="8.30" lengthAdjust="spacingAndGlyphs"  stroke="#333" stroke-width="0.14">Risk</text>
<circle cx="145.10" cy="181.80" r="0.9" fill="#ff0000"/>
<text x="150.30" y="183.30" font-size="3.8" text-anchor="start" font-weight="normal" fill="#444" textLength="6.60" lengthAdjust="spacingAndGlyphs"  stroke="#444" stroke-width="0.11">high</text>
<circle cx="145.10" cy="188.20" r="0.9" fill="#0000ff"/>
<text x="150.30" y="189.70" font-size="3.8" text-anchor="start" font-weight="normal" fill="#444" textLength="5.60" lengthAdjust="spacingAndGlyphs"  stroke="#444" stroke-width="0.11">low</text>
<rect x="254.50" y="133.40" width="103.00" height="95.90" fill="none" stroke="#aaa" stroke-width="0.8" />
<line x1="252.80" y1="218.80" x2="254.50" y2="218.80" stroke="#777" stroke-width="0.6" />
<text x="252.00" y="220.20" font-size="4.0" text-anchor="end" font-weight="normal" fill="#555"  stroke="#555" stroke-width="0.12">−20</text>
<line x1="252.80" y1="201.00" x2="254.50" y2="201.00" stroke="#777" stroke-width="0.6" />
<text x="252.00" y="202.40" font-size="4.0" text-anchor="end" font-weight="normal" fill="#555"  stroke="#555" stroke-width="0.12">−10</text>
<line x1="252.80" y1="183.20" x2="254.50" y2="183.20" stroke="#777" stroke-width="0.6" />
<text x="252.00" y="184.60" font-size="4.0" text-anchor="end" font-weight="normal" fill="#555"  stroke="#555" stroke-width="0.12">0</text>
<line x1="252.80" y1="165.40" x2="254.50" y2="165.40" stroke="#777" stroke-width="0.6" />
<text x="252.00" y="166.80" font-size="4.0" text-anchor="end" font-weight="normal" fill="#555"  stroke="#555" stroke-width="0.12">10</text>
<line x1="252.80" y1="147.60" x2="254.50" y2="147.60" stroke="#777" stroke-width="0.6" />
<text x="252.00" y="149.00" font-size="4.0" text-anchor="end" font-weight="normal" fill="#555"  stroke="#555" stroke-width="0.12">20</text>
<line x1="261.60" y1="229.30" x2="261.60" y2="231.00" stroke="#777" stroke-width="0.6" />
<text x="261.60" y="234.80" font-size="4.0" text-anchor="middle" font-weight="normal" fill="#555"  stroke="#555" stroke-width="0.12">−20</text>
<line x1="282.30" y1="229.30" x2="282.30" y2="231.00" stroke="#777" stroke-width="0.6" />
<text x="282.30" y="234.80" font-size="4.0" text-anchor="middle" font-weight="normal" fill="#555"  stroke="#555" stroke-width="0.12">−10</text>
<line x1="303.00" y1="229.30" x2="303.00" y2="231.00" stroke="#777" stroke-width="0.6" />
<text x="303.00" y="234.80" font-size="4.0" text-anchor="middle" font-weight="normal" fill="#555"  stroke="#555" stroke-width="0.12">0</text>
<line x1="323.70" y1="229.30" x2="323.70" y2="231.00" stroke="#777" stroke-width="0.6" />
<text x="323.70" y="234.80" font-size="4.0" text-anchor="middle" font-weight="normal" fill="#555"  stroke="#555" stroke-width="0.12">10</text>
<line x1="344.40" y1="229.30" x2="344.40" y2="231.00" stroke="#777" stroke-width="0.6" />
<text x="344.40" y="234.80" font-size="4.0" text-anchor="middle" font-weight="normal" fill="#555"  stroke="#555" stroke-width="0.12">20</text>
<text x="306.20" y="239.60" font-size="5.6" text-anchor="middle" font-weight="normal" fill="#333" textLength="11.60" lengthAdjust="spacingAndGlyphs"  stroke="#333" stroke-width="0.17">tSNE1</text>
<text transform="translate(242.80,181.40) rotate(-90)" x="0" y="2.02" font-size="5.6" text-anchor="middle" font-weight="normal" fill="#333" stroke="#333" stroke-width="0.17" textLength="11.60" lengthAdjust="spacingAndGlyphs">tSNE2</text>
<text x="364.00" y="175.50" font-size="4.6" text-anchor="start" font-weight="normal" fill="#333" textLength="8.50" lengthAdjust="spacingAndGlyphs"  stroke="#333" stroke-width="0.14">Risk</text>
<circle cx="367.70" cy="181.30" r="0.9" fill="#ff0000"/>
<text x="373.20" y="182.80" font-size="3.8" text-anchor="start" font-weight="normal" fill="#444" textLength="6.60" lengthAdjust="spacingAndGlyphs"  stroke="#444" stroke-width="0.11">high</text>
<circle cx="367.70" cy="187.70" r="0.9" fill="#0000ff"/>
<text x="373.20" y="189.20" font-size="3.8" text-anchor="start" font-weight="normal" fill="#444" textLength="5.60" lengthAdjust="spacingAndGlyphs"  stroke="#444" stroke-width="0.11">low</text>
<line x1="492.50" y1="139.40" x2="492.50" y2="228.60" stroke="#222" stroke-width="0.8" />
<line x1="492.50" y1="228.60" x2="661.80" y2="228.60" stroke="#222" stroke-width="0.8" />
<line x1="490.60" y1="143.00" x2="492.50" y2="143.00" stroke="#222" stroke-width="0.7" />
<text x="489.00" y="145.10" font-size="6.0" text-anchor="end" font-weight="normal" fill="#222" textLength="13.20" lengthAdjust="spacingAndGlyphs"  stroke="#222" stroke-width="0.25">1.00</text>
<line x1="490.60" y1="163.50" x2="492.50" y2="163.50" stroke="#222" stroke-width="0.7" />
<text x="489.00" y="165.60" font-size="6.0" text-anchor="end" font-weight="normal" fill="#222" textLength="13.20" lengthAdjust="spacingAndGlyphs"  stroke="#222" stroke-width="0.25">0.75</text>
<line x1="490.60" y1="184.00" x2="492.50" y2="184.00" stroke="#222" stroke-width="0.7" />
<text x="489.00" y="186.10" font-size="6.0" text-anchor="end" font-weight="normal" fill="#222" textLength="13.20" lengthAdjust="spacingAndGlyphs"  stroke="#222" stroke-width="0.25">0.50</text>
<line x1="490.60" y1="204.50" x2="492.50" y2="204.50" stroke="#222" stroke-width="0.7" />
<text x="489.00" y="206.60" font-size="6.0" text-anchor="end" font-weight="normal" fill="#222" textLength="13.20" lengthAdjust="spacingAndGlyphs"  stroke="#222" stroke-width="0.25">0.25</text>
<line x1="490.60" y1="225.00" x2="492.50" y2="225.00" stroke="#222" stroke-width="0.7" />
<text x="489.00" y="227.10" font-size="6.0" text-anchor="end" font-weight="normal" fill="#222" textLength="13.20" lengthAdjust="spacingAndGlyphs"  stroke="#222" stroke-width="0.25">0.00</text>
<line x1="500.30" y1="228.60" x2="500.30" y2="230.40" stroke="#222" stroke-width="0.7" />
<text x="500.30" y="234.90" font-size="6.0" text-anchor="middle" font-weight="normal" fill="#222" textLength="3.20" lengthAdjust="spacingAndGlyphs"  stroke="#222" stroke-width="0.32">0</text>
<line x1="510.61" y1="228.60" x2="510.61" y2="230.40" stroke="#222" stroke-width="0.7" />
<text x="510.61" y="234.90" font-size="6.0" text-anchor="middle" font-weight="normal" fill="#222" textLength="3.20" lengthAdjust="spacingAndGlyphs"  stroke="#222" stroke-width="0.32">1</text>
<line x1="520.92" y1="228.60" x2="520.92" y2="230.40" stroke="#222" stroke-width="0.7" />
<text x="520.92" y="234.90" font-size="6.0" text-anchor="middle" font-weight="normal" fill="#222" textLength="3.20" lengthAdjust="spacingAndGlyphs"  stroke="#222" stroke-width="0.32">2</text>
<line x1="531.23" y1="228.60" x2="531.23" y2="230.40" stroke="#222" stroke-width="0.7" />
<text x="531.23" y="234.90" font-size="6.0" text-anchor="middle" font-weight="normal" fill="#222" textLength="3.20" lengthAdjust="spacingAndGlyphs"  stroke="#222" stroke-width="0.32">3</text>
<line x1="541.54" y1="228.60" x2="541.54" y2="230.40" stroke="#222" stroke-width="0.7" />
<text x="541.54" y="234.90" font-size="6.0" text-anchor="middle" font-weight="normal" fill="#222" textLength="3.20" lengthAdjust="spacingAndGlyphs"  stroke="#222" stroke-width="0.32">4</text>
<line x1="551.85" y1="228.60" x2="551.85" y2="230.40" stroke="#222" stroke-width="0.7" />
<text x="551.85" y="234.90" font-size="6.0" text-anchor="middle" font-weight="normal" fill="#222" textLength="3.20" lengthAdjust="spacingAndGlyphs"  stroke="#222" stroke-width="0.32">5</text>
<line x1="562.16" y1="228.60" x2="562.16" y2="230.40" stroke="#222" stroke-width="0.7" />
<text x="562.16" y="234.90" font-size="6.0" text-anchor="middle" font-weight="normal" fill="#222" textLength="3.20" lengthAdjust="spacingAndGlyphs"  stroke="#222" stroke-width="0.32">6</text>
<line x1="572.47" y1="228.60" x2="572.47" y2="230.40" stroke="#222" stroke-width="0.7" />
<text x="572.47" y="234.90" font-size="6.0" text-anchor="middle" font-weight="normal" fill="#222" textLength="3.20" lengthAdjust="spacingAndGlyphs"  stroke="#222" stroke-width="0.32">7</text>
<line x1="582.78" y1="228.60" x2="582.78" y2="230.40" stroke="#222" stroke-width="0.7" />
<text x="582.78" y="234.90" font-size="6.0" text-anchor="middle" font-weight="normal" fill="#222" textLength="3.20" lengthAdjust="spacingAndGlyphs"  stroke="#222" stroke-width="0.32">8</text>
<line x1="593.09" y1="228.60" x2="593.09" y2="230.40" stroke="#222" stroke-width="0.7" />
<text x="593.09" y="234.90" font-size="6.0" text-anchor="middle" font-weight="normal" fill="#222" textLength="3.20" lengthAdjust="spacingAndGlyphs"  stroke="#222" stroke-width="0.32">9</text>
<line x1="603.40" y1="228.60" x2="603.40" y2="230.40" stroke="#222" stroke-width="0.7" />
<text x="603.40" y="234.90" font-size="6.0" text-anchor="middle" font-weight="normal" fill="#222" textLength="6.40" lengthAdjust="spacingAndGlyphs"  stroke="#222" stroke-width="0.32">10</text>
<line x1="613.71" y1="228.60" x2="613.71" y2="230.40" stroke="#222" stroke-width="0.7" />
<text x="613.71" y="234.90" font-size="6.0" text-anchor="middle" font-weight="normal" fill="#222" textLength="6.40" lengthAdjust="spacingAndGlyphs"  stroke="#222" stroke-width="0.32">11</text>
<line x1="624.02" y1="228.60" x2="624.02" y2="230.40" stroke="#222" stroke-width="0.7" />
<text x="624.02" y="234.90" font-size="6.0" text-anchor="middle" font-weight="normal" fill="#222" textLength="6.40" lengthAdjust="spacingAndGlyphs"  stroke="#222" stroke-width="0.32">12</text>
<line x1="634.33" y1="228.60" x2="634.33" y2="230.40" stroke="#222" stroke-width="0.7" />
<text x="634.33" y="234.90" font-size="6.0" text-anchor="middle" font-weight="normal" fill="#222" textLength="6.40" lengthAdjust="spacingAndGlyphs"  stroke="#222" stroke-width="0.32">13</text>
<line x1="644.64" y1="228.60" x2="644.64" y2="230.40" stroke="#222" stroke-width="0.7" />
<text x="644.64" y="234.90" font-size="6.0" text-anchor="middle" font-weight="normal" fill="#222" textLength="6.40" lengthAdjust="spacingAndGlyphs"  stroke="#222" stroke-width="0.32">14</text>
<line x1="654.95" y1="228.60" x2="654.95" y2="230.40" stroke="#222" stroke-width="0.7" />
<text x="654.95" y="234.90" font-size="6.0" text-anchor="middle" font-weight="normal" fill="#222" textLength="6.40" lengthAdjust="spacingAndGlyphs"  stroke="#222" stroke-width="0.32">15</text>
<text x="576.50" y="240.90" font-size="7.0" text-anchor="middle" font-weight="bold" fill="#222" textLength="43.00" lengthAdjust="spacingAndGlyphs" >Time(years)</text>
<text transform="translate(470.90,184.10) rotate(-90)" x="0" y="2.30" font-size="6.4" text-anchor="middle" font-weight="normal" fill="#222" stroke="#222" stroke-width="0.20" textLength="46.50" lengthAdjust="spacingAndGlyphs">Survival probability</text>
<text x="503.00" y="210.50" font-size="5.6" text-anchor="start" font-weight="normal" fill="#333" textLength="36.30" lengthAdjust="spacingAndGlyphs"  stroke="#333" stroke-width="0.17">p=4.353e−07</text>
<text x="535.70" y="130.80" font-size="5.6" text-anchor="start" font-weight="normal" fill="#333" textLength="10.00" lengthAdjust="spacingAndGlyphs"  stroke="#333" stroke-width="0.05">Risk</text>
<rect x="549.40" y="126.70" width="8.70" height="4.80" fill="#fbb8b8" stroke="#f79a9a" stroke-width="0.4" />
<line x1="551.00" y1="129.10" x2="556.50" y2="129.10" stroke="#ff0000" stroke-width="0.9" />
<text x="561.70" y="130.80" font-size="5.6" text-anchor="start" font-weight="normal" fill="#333" textLength="21.30" lengthAdjust="spacingAndGlyphs"  stroke="#333" stroke-width="0.05">High risk</text>
<rect x="586.50" y="126.70" width="8.50" height="4.80" fill="#b8b8fb" stroke="#9a9af7" stroke-width="0.4" />
<line x1="588.00" y1="129.10" x2="593.50" y2="129.10" stroke="#0000ff" stroke-width="0.9" />
<text x="598.80" y="130.80" font-size="5.6" text-anchor="start" font-weight="normal" fill="#333" textLength="20.20" lengthAdjust="spacingAndGlyphs"  stroke="#333" stroke-width="0.05">Low risk</text>
<rect x="22.30" y="266.50" width="204.10" height="97.50" fill="none" stroke="#888" stroke-width="0.6" />
<line x1="123.60" y1="266.50" x2="123.60" y2="364.00" stroke="#d6d6d6" stroke-width="1.0" />
<line x1="20.30" y1="360.40" x2="22.30" y2="360.40" stroke="#888" stroke-width="0.5" />
<text transform="translate(16.30,360.40) rotate(-90)" x="0" y="1.01" font-size="2.8" text-anchor="middle" font-weight="normal" fill="#555" stroke="#555" stroke-width="0.08">0</text>
<line x1="20.30" y1="330.25" x2="22.30" y2="330.25" stroke="#888" stroke-width="0.5" />
<text transform="translate(16.30,330.25) rotate(-90)" x="0" y="1.01" font-size="2.8" text-anchor="middle" font-weight="normal" fill="#555" stroke="#555" stroke-width="0.08">5</text>
<line x1="20.30" y1="300.10" x2="22.30" y2="300.10" stroke="#888" stroke-width="0.5" />
<text transform="translate(16.30,300.10) rotate(-90)" x="0" y="1.01" font-size="2.8" text-anchor="middle" font-weight="normal" fill="#555" stroke="#555" stroke-width="0.08">10</text>
<line x1="20.30" y1="269.95" x2="22.30" y2="269.95" stroke="#888" stroke-width="0.5" />
<text transform="translate(16.30,269.95) rotate(-90)" x="0" y="1.01" font-size="2.8" text-anchor="middle" font-weight="normal" fill="#555" stroke="#555" stroke-width="0.08">15</text>
<line x1="29.40" y1="364.00" x2="29.40" y2="366.00" stroke="#888" stroke-width="0.5" />
<text x="29.40" y="369.30" font-size="2.8" text-anchor="middle" font-weight="normal" fill="#555"  stroke="#555" stroke-width="0.08">0</text>
<line x1="79.80" y1="364.00" x2="79.80" y2="366.00" stroke="#888" stroke-width="0.5" />
<text x="79.80" y="369.30" font-size="2.8" text-anchor="middle" font-weight="normal" fill="#555"  stroke="#555" stroke-width="0.08">100</text>
<line x1="130.20" y1="364.00" x2="130.20" y2="366.00" stroke="#888" stroke-width="0.5" />
<text x="130.20" y="369.30" font-size="2.8" text-anchor="middle" font-weight="normal" fill="#555"  stroke="#555" stroke-width="0.08">200</text>
<line x1="180.60" y1="364.00" x2="180.60" y2="366.00" stroke="#888" stroke-width="0.5" />
<text x="180.60" y="369.30" font-size="2.8" text-anchor="middle" font-weight="normal" fill="#555"  stroke="#555" stroke-width="0.08">300</text>
<text transform="translate(9.80,311.70) rotate(-90)" x="0" y="1.15" font-size="3.2" text-anchor="middle" font-weight="normal" fill="#555" stroke="#555" stroke-width="0.10" textLength="27.00" lengthAdjust="spacingAndGlyphs">Survival time (year)</text>
<text x="123.90" y="374.50" font-size="3.0" text-anchor="middle" font-weight="normal" fill="#555" textLength="44.00" lengthAdjust="spacingAndGlyphs"  stroke="#555" stroke-width="0.09">Patients (increasing risk score)</text>
<circle cx="25.70" cy="269.70" r="0.8" fill="#ff0000"/>
<text x="29.20" y="270.90" font-size="3.4" text-anchor="start" font-weight="normal" fill="#333" textLength="8.50" lengthAdjust="spacingAndGlyphs"  stroke="#333" stroke-width="0.10">Dead</text>
<circle cx="25.70" cy="272.80" r="0.8" fill="#0000ff"/>
<text x="29.20" y="274.00" font-size="3.4" text-anchor="start" font-weight="normal" fill="#333" textLength="7.80" lengthAdjust="spacingAndGlyphs"  stroke="#333" stroke-width="0.10">Alive</text>
<rect x="268.70" y="264.30" width="151.60" height="92.90" fill="none" stroke="#666" stroke-width="0.9" />
<line x1="273.60" y1="353.30" x2="414.60" y2="267.80" stroke="#666" stroke-width="0.8" stroke-dasharray="1.5,1.3"/>
<line x1="266.20" y1="353.30" x2="268.70" y2="353.30" stroke="#555" stroke-width="0.6" />
<text transform="translate(257.20,353.30) rotate(-90)" x="0" y="2.02" font-size="5.6" text-anchor="middle" font-weight="normal" fill="#222" stroke="#222" stroke-width="0.25" textLength="7.50" lengthAdjust="spacingAndGlyphs">0.0</text>
<line x1="273.60" y1="357.20" x2="273.60" y2="359.60" stroke="#555" stroke-width="0.6" />
<text x="273.60" y="368.20" font-size="5.6" text-anchor="middle" font-weight="normal" fill="#222" textLength="7.50" lengthAdjust="spacingAndGlyphs"  stroke="#222" stroke-width="0.25">0.0</text>
<line x1="266.20" y1="336.20" x2="268.70" y2="336.20" stroke="#555" stroke-width="0.6" />
<text transform="translate(257.20,336.20) rotate(-90)" x="0" y="2.02" font-size="5.6" text-anchor="middle" font-weight="normal" fill="#222" stroke="#222" stroke-width="0.25" textLength="7.50" lengthAdjust="spacingAndGlyphs">0.2</text>
<line x1="301.80" y1="357.20" x2="301.80" y2="359.60" stroke="#555" stroke-width="0.6" />
<text x="301.80" y="368.20" font-size="5.6" text-anchor="middle" font-weight="normal" fill="#222" textLength="7.50" lengthAdjust="spacingAndGlyphs"  stroke="#222" stroke-width="0.25">0.2</text>
<line x1="266.20" y1="319.10" x2="268.70" y2="319.10" stroke="#555" stroke-width="0.6" />
<text transform="translate(257.20,319.10) rotate(-90)" x="0" y="2.02" font-size="5.6" text-anchor="middle" font-weight="normal" fill="#222" stroke="#222" stroke-width="0.25" textLength="7.50" lengthAdjust="spacingAndGlyphs">0.4</text>
<line x1="330.00" y1="357.20" x2="330.00" y2="359.60" stroke="#555" stroke-width="0.6" />
<text x="330.00" y="368.20" font-size="5.6" text-anchor="middle" font-weight="normal" fill="#222" textLength="7.50" lengthAdjust="spacingAndGlyphs"  stroke="#222" stroke-width="0.25">0.4</text>
<line x1="266.20" y1="302.00" x2="268.70" y2="302.00" stroke="#555" stroke-width="0.6" />
<text transform="translate(257.20,302.00) rotate(-90)" x="0" y="2.02" font-size="5.6" text-anchor="middle" font-weight="normal" fill="#222" stroke="#222" stroke-width="0.25" textLength="7.50" lengthAdjust="spacingAndGlyphs">0.6</text>
<line x1="358.20" y1="357.20" x2="358.20" y2="359.60" stroke="#555" stroke-width="0.6" />
<text x="358.20" y="368.20" font-size="5.6" text-anchor="middle" font-weight="normal" fill="#222" textLength="7.50" lengthAdjust="spacingAndGlyphs"  stroke="#222" stroke-width="0.25">0.6</text>
<line x1="266.20" y1="284.90" x2="268.70" y2="284.90" stroke="#555" stroke-width="0.6" />
<text transform="translate(257.20,284.90) rotate(-90)" x="0" y="2.02" font-size="5.6" text-anchor="middle" font-weight="normal" fill="#222" stroke="#222" stroke-width="0.25" textLength="7.50" lengthAdjust="spacingAndGlyphs">0.8</text>
<line x1="386.40" y1="357.20" x2="386.40" y2="359.60" stroke="#555" stroke-width="0.6" />
<text x="386.40" y="368.20" font-size="5.6" text-anchor="middle" font-weight="normal" fill="#222" textLength="7.50" lengthAdjust="spacingAndGlyphs"  stroke="#222" stroke-width="0.25">0.8</text>
<line x1="266.20" y1="267.80" x2="268.70" y2="267.80" stroke="#555" stroke-width="0.6" />
<text transform="translate(257.20,267.80) rotate(-90)" x="0" y="2.02" font-size="5.6" text-anchor="middle" font-weight="normal" fill="#222" stroke="#222" stroke-width="0.25" textLength="7.50" lengthAdjust="spacingAndGlyphs">1.0</text>
<line x1="414.60" y1="357.20" x2="414.60" y2="359.60" stroke="#555" stroke-width="0.6" />
<text x="414.60" y="368.20" font-size="5.6" text-anchor="middle" font-weight="normal" fill="#222" textLength="7.50" lengthAdjust="spacingAndGlyphs"  stroke="#222" stroke-width="0.25">1.0</text>
<text transform="translate(240.20,310.20) rotate(-90)" x="0" y="1.94" font-size="5.4" text-anchor="middle" font-weight="normal" fill="#222" stroke="#222" stroke-width="0.20" textLength="23.20" lengthAdjust="spacingAndGlyphs">Sensitivity</text>
<text x="326.00" y="379.50" font-size="5.6" text-anchor="start" font-weight="normal" fill="#222" textLength="36.50" lengthAdjust="spacingAndGlyphs"  stroke="#222" stroke-width="0.22">1−Specificity</text>
<path d="M273.60,353.30 L273.50,348.20 L273.50,343.90 L274.80,341.40 L278.50,341.40 L279.10,339.00 L285.30,339.00 L286.50,335.30 L287.10,331.60 L289.00,329.70 L289.60,327.30 L292.70,327.30 L293.90,322.30 L295.70,318.60 L297.60,315.50 L298.80,313.70 L300.50,310.00 L303.80,310.00 L307.00,307.40 L309.00,304.80 L312.30,301.50 L316.20,300.20 L318.20,298.90 L322.10,298.90 L324.10,296.20 L325.40,293.00 L329.30,292.30 L330.00,290.30 L333.20,288.40 L336.50,287.10 L337.20,285.10 L343.10,284.50 L343.70,281.80 L352.60,281.50 L352.60,278.30 L370.20,278.30 L373.30,274.60 L377.70,272.70 L384.00,271.40 L385.20,270.20 L391.50,270.20 L391.50,267.70 L415.40,267.30" stroke="#00e600" stroke-width="1.1" fill="none" stroke-linejoin="round"/>
<path d="M273.60,353.30 L273.50,350.70 L273.50,347.60 L276.60,347.00 L280.30,345.80 L286.50,345.10 L286.50,340.80 L288.30,337.70 L288.30,334.70 L290.80,332.80 L292.70,330.30 L294.50,327.90 L296.40,326.00 L297.00,321.10 L297.60,319.20 L300.10,317.40 L303.10,314.60 L307.00,313.30 L307.70,310.00 L311.00,308.00 L314.20,306.70 L316.20,305.40 L319.50,302.80 L322.80,299.50 L326.00,298.20 L329.30,296.20 L330.60,293.00 L335.90,292.30 L337.20,290.30 L339.80,289.00 L343.10,289.00 L343.70,287.70 L347.00,286.40 L347.70,283.10 L352.60,280.20 L365.10,277.70 L372.70,274.60 L377.70,273.30 L382.70,272.00 L384.60,269.50 L389.60,267.70 L415.40,267.30" stroke="#0000ff" stroke-width="1.1" fill="none" stroke-linejoin="round"/>
<path d="M273.60,353.30 L273.50,352.50 L273.50,349.50 L277.20,347.60 L280.30,346.40 L284.00,344.50 L285.30,343.30 L285.90,339.00 L287.10,334.70 L288.30,331.60 L290.80,331.00 L291.40,329.10 L293.90,327.30 L294.50,322.30 L296.40,319.20 L298.80,315.50 L300.70,312.50 L301.90,310.00 L304.40,309.40 L306.40,306.70 L309.70,304.10 L313.60,301.50 L317.50,300.80 L321.50,299.50 L325.40,296.90 L329.30,295.60 L334.60,293.60 L338.50,291.70 L341.80,290.30 L343.70,287.70 L347.70,285.10 L356.30,282.70 L371.40,278.30 L384.00,275.20 L387.70,272.00 L400.30,272.00 L404.00,269.50 L412.90,268.90 L415.40,267.30" stroke="#ff0000" stroke-width="1.1" fill="none" stroke-linejoin="round"/>
<line x1="332.70" y1="339.50" x2="345.40" y2="339.50" stroke="#00ee00" stroke-width="0.9" />
<text x="351.30" y="341.30" font-size="5.1" text-anchor="start" font-weight="normal" fill="#222" textLength="65.70" lengthAdjust="spacingAndGlyphs"  stroke="#222" stroke-width="0.08">AUC at 1 years: 0.716</text>
<line x1="332.70" y1="345.40" x2="345.40" y2="345.40" stroke="#0000ff" stroke-width="0.9" />
<text x="351.30" y="347.20" font-size="5.1" text-anchor="start" font-weight="normal" fill="#222" textLength="65.70" lengthAdjust="spacingAndGlyphs"  stroke="#222" stroke-width="0.08">AUC at 2 years: 0.688</text>
<line x1="332.70" y1="351.40" x2="345.40" y2="351.40" stroke="#ff0000" stroke-width="0.9" />
<text x="351.30" y="353.20" font-size="5.1" text-anchor="start" font-weight="normal" fill="#222" textLength="65.70" lengthAdjust="spacingAndGlyphs"  stroke="#222" stroke-width="0.08">AUC at 3 years: 0.677</text>
<rect x="496.70" y="263.00" width="137.50" height="95.80" fill="none" stroke="#666" stroke-width="0.9" />
<line x1="501.10" y1="355.30" x2="629.00" y2="266.50" stroke="#777" stroke-width="0.7" />
<line x1="494.20" y1="355.30" x2="496.70" y2="355.30" stroke="#555" stroke-width="0.6" />
<text transform="translate(486.80,355.30) rotate(-90)" x="0" y="2.02" font-size="5.6" text-anchor="middle" font-weight="normal" fill="#222" stroke="#222" stroke-width="0.25" textLength="7.50" lengthAdjust="spacingAndGlyphs">0.0</text>
<line x1="501.10" y1="358.80" x2="501.10" y2="361.20" stroke="#555" stroke-width="0.6" />
<text x="501.10" y="368.00" font-size="5.6" text-anchor="middle" font-weight="normal" fill="#222" textLength="7.50" lengthAdjust="spacingAndGlyphs"  stroke="#222" stroke-width="0.25">0.0</text>
<line x1="494.20" y1="337.54" x2="496.70" y2="337.54" stroke="#555" stroke-width="0.6" />
<text transform="translate(486.80,337.54) rotate(-90)" x="0" y="2.02" font-size="5.6" text-anchor="middle" font-weight="normal" fill="#222" stroke="#222" stroke-width="0.25" textLength="7.50" lengthAdjust="spacingAndGlyphs">0.2</text>
<line x1="526.68" y1="358.80" x2="526.68" y2="361.20" stroke="#555" stroke-width="0.6" />
<text x="526.68" y="368.00" font-size="5.6" text-anchor="middle" font-weight="normal" fill="#222" textLength="7.50" lengthAdjust="spacingAndGlyphs"  stroke="#222" stroke-width="0.25">0.2</text>
<line x1="494.20" y1="319.78" x2="496.70" y2="319.78" stroke="#555" stroke-width="0.6" />
<text transform="translate(486.80,319.78) rotate(-90)" x="0" y="2.02" font-size="5.6" text-anchor="middle" font-weight="normal" fill="#222" stroke="#222" stroke-width="0.25" textLength="7.50" lengthAdjust="spacingAndGlyphs">0.4</text>
<line x1="552.26" y1="358.80" x2="552.26" y2="361.20" stroke="#555" stroke-width="0.6" />
<text x="552.26" y="368.00" font-size="5.6" text-anchor="middle" font-weight="normal" fill="#222" textLength="7.50" lengthAdjust="spacingAndGlyphs"  stroke="#222" stroke-width="0.25">0.4</text>
<line x1="494.20" y1="302.02" x2="496.70" y2="302.02" stroke="#555" stroke-width="0.6" />
<text transform="translate(486.80,302.02) rotate(-90)" x="0" y="2.02" font-size="5.6" text-anchor="middle" font-weight="normal" fill="#222" stroke="#222" stroke-width="0.25" textLength="7.50" lengthAdjust="spacingAndGlyphs">0.6</text>
<line x1="577.84" y1="358.80" x2="577.84" y2="361.20" stroke="#555" stroke-width="0.6" />
<text x="577.84" y="368.00" font-size="5.6" text-anchor="middle" font-weight="normal" fill="#222" textLength="7.50" lengthAdjust="spacingAndGlyphs"  stroke="#222" stroke-width="0.25">0.6</text>
<line x1="494.20" y1="284.26" x2="496.70" y2="284.26" stroke="#555" stroke-width="0.6" />
<text transform="translate(486.80,284.26) rotate(-90)" x="0" y="2.02" font-size="5.6" text-anchor="middle" font-weight="normal" fill="#222" stroke="#222" stroke-width="0.25" textLength="7.50" lengthAdjust="spacingAndGlyphs">0.8</text>
<line x1="603.42" y1="358.80" x2="603.42" y2="361.20" stroke="#555" stroke-width="0.6" />
<text x="603.42" y="368.00" font-size="5.6" text-anchor="middle" font-weight="normal" fill="#222" textLength="7.50" lengthAdjust="spacingAndGlyphs"  stroke="#222" stroke-width="0.25">0.8</text>
<line x1="494.20" y1="266.50" x2="496.70" y2="266.50" stroke="#555" stroke-width="0.6" />
<text transform="translate(486.80,266.50) rotate(-90)" x="0" y="2.02" font-size="5.6" text-anchor="middle" font-weight="normal" fill="#222" stroke="#222" stroke-width="0.25" textLength="7.50" lengthAdjust="spacingAndGlyphs">1.0</text>
<line x1="629.00" y1="358.80" x2="629.00" y2="361.20" stroke="#555" stroke-width="0.6" />
<text x="629.00" y="368.00" font-size="5.6" text-anchor="middle" font-weight="normal" fill="#222" textLength="7.50" lengthAdjust="spacingAndGlyphs"  stroke="#222" stroke-width="0.25">1.0</text>
<text transform="translate(473.80,311.40) rotate(-90)" x="0" y="1.87" font-size="5.2" text-anchor="middle" font-weight="normal" fill="#222" stroke="#222" stroke-width="0.20" textLength="21.50" lengthAdjust="spacingAndGlyphs">Sensitivity</text>
<text x="548.40" y="377.70" font-size="5.6" text-anchor="start" font-weight="normal" fill="#222" textLength="33.80" lengthAdjust="spacingAndGlyphs"  stroke="#222" stroke-width="0.22">1−Specificity</text>
<path d="M501.10,355.30 L612.40,268.80 L620.70,266.60 L629.00,266.10" stroke="#2a2aff" stroke-width="1.1" fill="none" />
<path d="M501.10,355.30 L504.10,353.20 L506.80,350.50 L509.50,347.80 L511.20,344.30 L513.90,338.00 L515.70,334.50 L517.50,331.80 L520.10,328.30 L521.90,321.10 L524.60,319.40 L527.20,315.80 L529.00,313.10 L532.60,312.20 L535.30,313.10 L537.90,312.20 L540.00,309.00 L541.50,307.80 L543.80,303.40 L545.40,299.80 L546.30,296.50 L549.40,290.90 L551.30,288.60 L558.80,288.30 L562.60,285.80 L567.00,282.70 L568.90,279.60 L570.70,274.50 L575.10,273.90 L577.60,271.40 L590.20,271.40 L594.60,267.30 L608.60,266.60 L629.00,266.10" stroke="#00e600" stroke-width="1.1" fill="none" stroke-linejoin="round"/>
<path d="M501.10,355.30 L500.90,343.40 L502.30,343.40 L502.30,341.60 L505.00,341.60 L505.50,339.50 L509.50,339.50 L511.20,340.20 L512.10,332.70 L513.00,331.30 L514.80,331.30 L515.10,328.30 L517.50,328.30 L518.40,324.70 L520.10,322.90 L521.00,319.40 L522.80,316.70 L524.60,314.90 L525.50,310.50 L528.10,310.50 L529.90,307.80 L531.70,306.00 L533.50,305.10 L535.30,302.80 L537.90,301.60 L539.70,298.90 L545.00,299.00 L545.60,293.40 L547.50,293.40 L549.40,290.90 L550.70,290.20 L555.10,289.60 L555.70,287.10 L558.80,284.60 L564.50,284.00 L565.70,280.80 L569.50,280.20 L572.00,278.30 L572.00,277.10 L594.00,277.10 L594.60,274.50 L597.10,273.30 L597.10,271.60 L601.00,271.60 L601.00,269.90 L608.60,268.80 L608.60,266.20 L629.00,266.10" stroke="#ff2a2a" stroke-width="1.1" fill="none" stroke-linejoin="round"/>
<line x1="562.40" y1="345.00" x2="572.70" y2="345.00" stroke="#ff5555" stroke-width="0.8" />
<text x="577.00" y="346.50" font-size="4.4" text-anchor="start" font-weight="normal" fill="#333" textLength="55.30" lengthAdjust="spacingAndGlyphs"  stroke="#333" stroke-width="0.05">risk score (AUC=0.720)</text>
<line x1="562.40" y1="349.70" x2="572.70" y2="349.70" stroke="#33ee33" stroke-width="0.8" />
<text x="577.00" y="351.20" font-size="4.4" text-anchor="start" font-weight="normal" fill="#333" textLength="39.50" lengthAdjust="spacingAndGlyphs"  stroke="#333" stroke-width="0.05">age (AUC=0.705)</text>
<line x1="562.40" y1="354.50" x2="572.70" y2="354.50" stroke="#3333ff" stroke-width="0.8" />
<text x="577.00" y="356.00" font-size="4.4" text-anchor="start" font-weight="normal" fill="#333" textLength="43.00" lengthAdjust="spacingAndGlyphs"  stroke="#333" stroke-width="0.05">grade (AUC=0.660)</text>
<path d="M498.75,147.65 L501.64,149.32 L505.73,152.13 L509.19,156.84 L512.54,161.07 L514.68,166.08 L517.85,172.82 L523.93,177.72 L526.73,183.34 L530.04,191.19 L534.13,197.52 L540.95,206.64 L545.71,209.80 L551.57,213.41 L555.69,217.49 L562.51,220.54 L569.53,220.21 L573.11,222.00 L576.00,210.50 L592.00,212.00 L592.00,213.80 L608.60,214.30 L608.60,225.30 L594.00,225.30 L576.00,224.80 L577.29,213.80 L571.47,210.79 L564.49,210.46 L561.91,208.91 L558.03,204.99 L551.29,200.80 L548.65,199.36 L542.47,191.48 L538.96,186.41 L535.47,178.86 L530.47,171.48 L523.55,167.58 L521.12,162.92 L518.06,157.33 L513.61,152.96 L509.07,148.27 L503.76,145.48 L500.45,144.15Z" fill="#ff0000" fill-opacity="0.3" stroke="none" stroke-linejoin="round"/>
<path d="M499.41,144.62 L505.45,145.73 L512.52,148.67 L516.86,153.21 L521.77,156.16 L524.78,161.24 L527.11,165.97 L531.17,172.18 L536.58,178.45 L540.84,184.27 L545.32,190.60 L548.91,194.48 L552.68,198.63 L559.00,202.54 L564.25,204.25 L567.39,206.81 L571.50,207.89 L570.44,207.71 L576.00,194.00 L576.00,197.40 L591.50,197.40 L591.50,201.00 L602.00,201.00 L602.00,202.80 L630.20,202.80 L630.20,200.10 L655.30,200.10 L655.30,223.80 L630.20,223.80 L630.20,220.50 L602.00,220.50 L602.00,215.80 L590.50,215.80 L590.50,213.80 L576.00,212.50 L579.56,199.29 L576.10,196.51 L572.21,195.99 L568.95,193.75 L563.20,192.46 L558.92,190.37 L556.09,187.52 L552.68,184.40 L548.16,178.73 L543.42,172.75 L537.83,166.82 L533.89,161.63 L531.02,157.16 L526.03,151.24 L519.94,148.79 L514.88,144.53 L506.35,142.07 L499.79,141.58Z" fill="#0000ff" fill-opacity="0.32" stroke="none" stroke-linejoin="round"/>
<path d="M499.60,145.90 L502.70,147.40 L507.40,150.20 L511.40,154.90 L515.30,159.20 L517.90,164.50 L520.70,170.20 L527.20,174.60 L531.10,181.10 L534.50,188.80 L538.30,194.50 L544.80,203.00 L548.50,205.30 L554.80,209.20 L558.80,213.20 L563.50,215.50 L570.50,215.50 L575.20,217.90 L577.60,221.00 L593.80,221.20 L594.50,222.70 L608.60,222.70" stroke="#ff0000" stroke-width="1.6" fill="none" stroke-linejoin="round"/>
<path d="M499.60,143.10 L505.90,143.90 L513.70,146.60 L518.40,151.00 L523.90,153.70 L527.90,159.20 L530.50,163.80 L534.50,169.50 L540.00,175.60 L544.50,181.50 L549.00,187.50 L552.50,191.00 L555.80,194.50 L561.10,197.50 L566.60,199.00 L569.80,201.40 L573.80,202.20 L575.00,203.50 L577.00,206.80 L590.50,206.80 L592.50,211.30 L601.90,211.30 L602.60,214.60 L630.20,214.60 L630.20,219.30 L655.10,219.30" stroke="#0000ff" stroke-width="1.6" fill="none" stroke-linejoin="round"/>
<line x1="583.00" y1="205.50" x2="583.00" y2="208.10" stroke="#0000ff" stroke-width="0.8" />
<line x1="597.00" y1="210.00" x2="597.00" y2="212.60" stroke="#0000ff" stroke-width="0.8" />
<line x1="611.00" y1="213.30" x2="611.00" y2="215.90" stroke="#0000ff" stroke-width="0.8" />
<line x1="655.00" y1="218.00" x2="655.00" y2="220.60" stroke="#0000ff" stroke-width="0.8" />
<line x1="570.00" y1="200.10" x2="570.00" y2="202.70" stroke="#0000ff" stroke-width="0.8" />
<line x1="608.00" y1="221.40" x2="608.00" y2="224.00" stroke="#ff0000" stroke-width="0.8" />
<line x1="567.00" y1="214.20" x2="567.00" y2="216.80" stroke="#ff0000" stroke-width="0.8" />
<circle cx="292.96" cy="140.81" r="1.05" fill="#ff0000"/>
<circle cx="294.27" cy="140.81" r="1.05" fill="#ff0000"/>
<circle cx="301.07" cy="140.54" r="1.05" fill="#ff0000"/>
<circle cx="300.16" cy="143.82" r="1.05" fill="#ff0000"/>
<circle cx="300.81" cy="147.09" r="1.05" fill="#ff0000"/>
<circle cx="304.08" cy="147.09" r="1.05" fill="#ff0000"/>
<circle cx="300.16" cy="150.36" r="1.05" fill="#ff0000"/>
<circle cx="298.19" cy="151.67" r="1.05" fill="#ff0000"/>
<circle cx="296.88" cy="152.32" r="1.05" fill="#ff0000"/>
<circle cx="304.08" cy="153.63" r="1.05" fill="#ff0000"/>
<circle cx="274.63" cy="147.09" r="1.05" fill="#ff0000"/>
<circle cx="273.98" cy="150.36" r="1.05" fill="#ff0000"/>
<circle cx="268.09" cy="151.02" r="1.05" fill="#ff0000"/>
<circle cx="269.40" cy="150.36" r="1.05" fill="#ff0000"/>
<circle cx="271.36" cy="150.75" r="1.05" fill="#ff0000"/>
<circle cx="272.67" cy="151.02" r="1.05" fill="#ff0000"/>
<circle cx="268.09" cy="154.29" r="1.05" fill="#ff0000"/>
<circle cx="275.94" cy="153.63" r="1.05" fill="#ff0000"/>
<circle cx="278.56" cy="152.98" r="1.05" fill="#ff0000"/>
<circle cx="279.21" cy="154.29" r="1.05" fill="#ff0000"/>
<circle cx="267.43" cy="157.56" r="1.05" fill="#ff0000"/>
<circle cx="263.51" cy="158.21" r="1.05" fill="#ff0000"/>
<circle cx="262.20" cy="159.52" r="1.05" fill="#ff0000"/>
<circle cx="264.82" cy="158.87" r="1.05" fill="#ff0000"/>
<circle cx="270.05" cy="158.87" r="1.05" fill="#ff0000"/>
<circle cx="272.02" cy="160.83" r="1.05" fill="#ff0000"/>
<circle cx="273.98" cy="161.49" r="1.05" fill="#ff0000"/>
<circle cx="275.29" cy="159.52" r="1.05" fill="#ff0000"/>
<circle cx="276.60" cy="160.18" r="1.05" fill="#ff0000"/>
<circle cx="277.91" cy="160.83" r="1.05" fill="#ff0000"/>
<circle cx="279.21" cy="159.52" r="1.05" fill="#ff0000"/>
<circle cx="283.14" cy="158.87" r="1.05" fill="#ff0000"/>
<circle cx="285.76" cy="158.21" r="1.05" fill="#ff0000"/>
<circle cx="304.08" cy="160.83" r="1.05" fill="#ff0000"/>
<circle cx="264.16" cy="168.69" r="1.05" fill="#ff0000"/>
<circle cx="265.47" cy="169.99" r="1.05" fill="#ff0000"/>
<circle cx="267.43" cy="170.65" r="1.05" fill="#ff0000"/>
<circle cx="269.40" cy="171.30" r="1.05" fill="#ff0000"/>
<circle cx="270.71" cy="170.65" r="1.05" fill="#ff0000"/>
<circle cx="272.67" cy="170.65" r="1.05" fill="#ff0000"/>
<circle cx="279.87" cy="168.69" r="1.05" fill="#ff0000"/>
<circle cx="281.18" cy="169.34" r="1.05" fill="#ff0000"/>
<circle cx="283.14" cy="169.34" r="1.05" fill="#ff0000"/>
<circle cx="267.43" cy="173.27" r="1.05" fill="#ff0000"/>
<circle cx="268.09" cy="175.88" r="1.05" fill="#ff0000"/>
<circle cx="270.71" cy="176.54" r="1.05" fill="#ff0000"/>
<circle cx="276.60" cy="173.92" r="1.05" fill="#ff0000"/>
<circle cx="277.91" cy="175.88" r="1.05" fill="#ff0000"/>
<circle cx="280.52" cy="173.27" r="1.05" fill="#ff0000"/>
<circle cx="282.49" cy="173.92" r="1.05" fill="#ff0000"/>
<circle cx="284.45" cy="175.23" r="1.05" fill="#ff0000"/>
<circle cx="286.41" cy="176.54" r="1.05" fill="#ff0000"/>
<circle cx="289.69" cy="173.27" r="1.05" fill="#ff0000"/>
<circle cx="287.72" cy="179.81" r="1.05" fill="#ff0000"/>
<circle cx="262.20" cy="177.85" r="1.05" fill="#ff0000"/>
<circle cx="265.47" cy="179.16" r="1.05" fill="#ff0000"/>
<circle cx="268.09" cy="180.07" r="1.05" fill="#ff0000"/>
<circle cx="273.32" cy="178.50" r="1.05" fill="#ff0000"/>
<circle cx="274.63" cy="177.19" r="1.05" fill="#ff0000"/>
<circle cx="279.21" cy="179.81" r="1.05" fill="#ff0000"/>
<circle cx="281.18" cy="181.77" r="1.05" fill="#ff0000"/>
<circle cx="290.34" cy="179.81" r="1.05" fill="#ff0000"/>
<circle cx="299.50" cy="168.69" r="1.05" fill="#ff0000"/>
<circle cx="300.81" cy="169.99" r="1.05" fill="#ff0000"/>
<circle cx="300.16" cy="183.08" r="1.05" fill="#ff0000"/>
<circle cx="270.71" cy="183.08" r="1.05" fill="#ff0000"/>
<circle cx="271.36" cy="181.77" r="1.05" fill="#ff0000"/>
<circle cx="318.32" cy="137.27" r="1.05" fill="#ff0000"/>
<circle cx="319.63" cy="139.24" r="1.05" fill="#ff0000"/>
<circle cx="320.94" cy="140.54" r="1.05" fill="#ff0000"/>
<circle cx="316.36" cy="139.89" r="1.05" fill="#ff0000"/>
<circle cx="320.94" cy="144.47" r="1.05" fill="#ff0000"/>
<circle cx="326.83" cy="145.78" r="1.05" fill="#ff0000"/>
<circle cx="326.18" cy="147.09" r="1.05" fill="#ff0000"/>
<circle cx="325.52" cy="148.40" r="1.05" fill="#ff0000"/>
<circle cx="324.87" cy="149.71" r="1.05" fill="#ff0000"/>
<circle cx="328.14" cy="149.71" r="1.05" fill="#ff0000"/>
<circle cx="330.10" cy="150.36" r="1.05" fill="#ff0000"/>
<circle cx="326.83" cy="151.67" r="1.05" fill="#ff0000"/>
<circle cx="326.18" cy="154.29" r="1.05" fill="#ff0000"/>
<circle cx="330.76" cy="153.63" r="1.05" fill="#ff0000"/>
<circle cx="332.72" cy="152.98" r="1.05" fill="#ff0000"/>
<circle cx="333.38" cy="151.67" r="1.05" fill="#ff0000"/>
<circle cx="300.65" cy="148.40" r="1.05" fill="#ff0000"/>
<circle cx="301.31" cy="151.02" r="1.05" fill="#ff0000"/>
<circle cx="305.89" cy="154.29" r="1.05" fill="#ff0000"/>
<circle cx="307.20" cy="154.94" r="1.05" fill="#ff0000"/>
<circle cx="308.51" cy="155.60" r="1.05" fill="#ff0000"/>
<circle cx="304.58" cy="156.91" r="1.05" fill="#ff0000"/>
<circle cx="306.54" cy="158.21" r="1.05" fill="#ff0000"/>
<circle cx="305.89" cy="162.14" r="1.05" fill="#ff0000"/>
<circle cx="317.02" cy="162.14" r="1.05" fill="#ff0000"/>
<circle cx="320.94" cy="164.10" r="1.05" fill="#ff0000"/>
<circle cx="319.63" cy="166.07" r="1.05" fill="#ff0000"/>
<circle cx="332.72" cy="158.87" r="1.05" fill="#ff0000"/>
<circle cx="334.69" cy="161.49" r="1.05" fill="#ff0000"/>
<circle cx="337.96" cy="160.83" r="1.05" fill="#ff0000"/>
<circle cx="306.54" cy="166.72" r="1.05" fill="#ff0000"/>
<circle cx="308.51" cy="168.03" r="1.05" fill="#ff0000"/>
<circle cx="309.82" cy="169.34" r="1.05" fill="#ff0000"/>
<circle cx="313.09" cy="179.16" r="1.05" fill="#ff0000"/>
<circle cx="312.43" cy="180.47" r="1.05" fill="#ff0000"/>
<circle cx="335.99" cy="178.50" r="1.05" fill="#ff0000"/>
<circle cx="335.34" cy="180.47" r="1.05" fill="#ff0000"/>
<circle cx="336.65" cy="179.81" r="1.05" fill="#ff0000"/>
<circle cx="302.62" cy="181.77" r="1.05" fill="#ff0000"/>
<circle cx="309.82" cy="183.08" r="1.05" fill="#ff0000"/>
<circle cx="330.10" cy="183.08" r="1.05" fill="#ff0000"/>
<circle cx="314.40" cy="151.67" r="1.05" fill="#ff0000"/>
<circle cx="315.71" cy="153.63" r="1.05" fill="#ff0000"/>
<circle cx="269.40" cy="180.00" r="1.05" fill="#ff0000"/>
<circle cx="272.02" cy="183.93" r="1.05" fill="#ff0000"/>
<circle cx="270.71" cy="184.58" r="1.05" fill="#ff0000"/>
<circle cx="272.67" cy="186.54" r="1.05" fill="#ff0000"/>
<circle cx="289.69" cy="183.93" r="1.05" fill="#ff0000"/>
<circle cx="260.24" cy="189.16" r="1.05" fill="#ff0000"/>
<circle cx="268.74" cy="190.47" r="1.05" fill="#ff0000"/>
<circle cx="268.09" cy="193.09" r="1.05" fill="#ff0000"/>
<circle cx="285.10" cy="191.78" r="1.05" fill="#ff0000"/>
<circle cx="296.88" cy="191.13" r="1.05" fill="#ff0000"/>
<circle cx="298.19" cy="193.09" r="1.05" fill="#ff0000"/>
<circle cx="299.50" cy="192.43" r="1.05" fill="#ff0000"/>
<circle cx="259.58" cy="196.36" r="1.05" fill="#ff0000"/>
<circle cx="261.54" cy="197.67" r="1.05" fill="#ff0000"/>
<circle cx="272.02" cy="198.98" r="1.05" fill="#ff0000"/>
<circle cx="283.14" cy="196.36" r="1.05" fill="#ff0000"/>
<circle cx="270.71" cy="209.45" r="1.05" fill="#ff0000"/>
<circle cx="272.67" cy="212.46" r="1.05" fill="#ff0000"/>
<circle cx="290.99" cy="213.38" r="1.05" fill="#ff0000"/>
<circle cx="286.41" cy="217.96" r="1.05" fill="#ff0000"/>
<circle cx="285.10" cy="219.27" r="1.05" fill="#ff0000"/>
<circle cx="283.80" cy="221.23" r="1.05" fill="#ff0000"/>
<circle cx="309.82" cy="184.58" r="1.05" fill="#ff0000"/>
<circle cx="331.41" cy="183.93" r="1.05" fill="#ff0000"/>
<circle cx="334.69" cy="185.24" r="1.05" fill="#ff0000"/>
<circle cx="327.49" cy="189.16" r="1.05" fill="#ff0000"/>
<circle cx="313.09" cy="187.85" r="1.05" fill="#ff0000"/>
<circle cx="313.74" cy="190.47" r="1.05" fill="#ff0000"/>
<circle cx="343.19" cy="189.16" r="1.05" fill="#ff0000"/>
<circle cx="343.85" cy="190.47" r="1.05" fill="#ff0000"/>
<circle cx="345.16" cy="196.36" r="1.05" fill="#ff0000"/>
<circle cx="342.54" cy="202.91" r="1.05" fill="#ff0000"/>
<circle cx="344.50" cy="208.14" r="1.05" fill="#ff0000"/>
<circle cx="335.50" cy="160.00" r="1.05" fill="#ff0000"/>
<circle cx="330.80" cy="187.50" r="1.05" fill="#ff0000"/>
<circle cx="302.77" cy="166.72" r="1.05" fill="#0000ff"/>
<circle cx="300.81" cy="171.30" r="1.05" fill="#0000ff"/>
<circle cx="301.47" cy="173.27" r="1.05" fill="#0000ff"/>
<circle cx="302.12" cy="175.23" r="1.05" fill="#0000ff"/>
<circle cx="303.43" cy="177.19" r="1.05" fill="#0000ff"/>
<circle cx="302.77" cy="179.16" r="1.05" fill="#0000ff"/>
<circle cx="304.08" cy="179.81" r="1.05" fill="#0000ff"/>
<circle cx="313.09" cy="149.71" r="1.05" fill="#0000ff"/>
<circle cx="313.74" cy="151.02" r="1.05" fill="#0000ff"/>
<circle cx="315.71" cy="152.32" r="1.05" fill="#0000ff"/>
<circle cx="318.32" cy="151.67" r="1.05" fill="#0000ff"/>
<circle cx="311.13" cy="158.21" r="1.05" fill="#0000ff"/>
<circle cx="306.54" cy="163.45" r="1.05" fill="#0000ff"/>
<circle cx="312.43" cy="164.76" r="1.05" fill="#0000ff"/>
<circle cx="313.09" cy="166.72" r="1.05" fill="#0000ff"/>
<circle cx="315.05" cy="166.07" r="1.05" fill="#0000ff"/>
<circle cx="317.02" cy="166.07" r="1.05" fill="#0000ff"/>
<circle cx="322.91" cy="162.14" r="1.05" fill="#0000ff"/>
<circle cx="320.29" cy="168.69" r="1.05" fill="#0000ff"/>
<circle cx="326.18" cy="166.72" r="1.05" fill="#0000ff"/>
<circle cx="330.10" cy="164.76" r="1.05" fill="#0000ff"/>
<circle cx="331.41" cy="166.72" r="1.05" fill="#0000ff"/>
<circle cx="334.03" cy="163.45" r="1.05" fill="#0000ff"/>
<circle cx="339.27" cy="161.49" r="1.05" fill="#0000ff"/>
<circle cx="303.27" cy="174.58" r="1.05" fill="#0000ff"/>
<circle cx="305.24" cy="176.54" r="1.05" fill="#0000ff"/>
<circle cx="303.93" cy="178.50" r="1.05" fill="#0000ff"/>
<circle cx="305.89" cy="174.58" r="1.05" fill="#0000ff"/>
<circle cx="311.13" cy="173.92" r="1.05" fill="#0000ff"/>
<circle cx="313.74" cy="173.92" r="1.05" fill="#0000ff"/>
<circle cx="315.71" cy="174.58" r="1.05" fill="#0000ff"/>
<circle cx="312.43" cy="177.19" r="1.05" fill="#0000ff"/>
<circle cx="319.63" cy="177.19" r="1.05" fill="#0000ff"/>
<circle cx="321.60" cy="179.16" r="1.05" fill="#0000ff"/>
<circle cx="323.56" cy="181.12" r="1.05" fill="#0000ff"/>
<circle cx="325.52" cy="182.43" r="1.05" fill="#0000ff"/>
<circle cx="334.03" cy="171.30" r="1.05" fill="#0000ff"/>
<circle cx="335.99" cy="173.27" r="1.05" fill="#0000ff"/>
<circle cx="337.96" cy="175.23" r="1.05" fill="#0000ff"/>
<circle cx="313.09" cy="182.43" r="1.05" fill="#0000ff"/>
<circle cx="317.02" cy="183.08" r="1.05" fill="#0000ff"/>
<circle cx="289.03" cy="191.78" r="1.05" fill="#0000ff"/>
<circle cx="296.23" cy="189.82" r="1.05" fill="#0000ff"/>
<circle cx="297.54" cy="195.71" r="1.05" fill="#0000ff"/>
<circle cx="296.88" cy="197.67" r="1.05" fill="#0000ff"/>
<circle cx="264.82" cy="198.32" r="1.05" fill="#0000ff"/>
<circle cx="266.13" cy="197.67" r="1.05" fill="#0000ff"/>
<circle cx="268.09" cy="197.02" r="1.05" fill="#0000ff"/>
<circle cx="284.45" cy="198.98" r="1.05" fill="#0000ff"/>
<circle cx="285.76" cy="197.02" r="1.05" fill="#0000ff"/>
<circle cx="289.03" cy="197.67" r="1.05" fill="#0000ff"/>
<circle cx="290.34" cy="199.63" r="1.05" fill="#0000ff"/>
<circle cx="291.65" cy="200.29" r="1.05" fill="#0000ff"/>
<circle cx="287.72" cy="202.91" r="1.05" fill="#0000ff"/>
<circle cx="290.34" cy="202.25" r="1.05" fill="#0000ff"/>
<circle cx="295.58" cy="199.63" r="1.05" fill="#0000ff"/>
<circle cx="302.77" cy="201.60" r="1.05" fill="#0000ff"/>
<circle cx="304.08" cy="202.91" r="1.05" fill="#0000ff"/>
<circle cx="270.71" cy="202.25" r="1.05" fill="#0000ff"/>
<circle cx="273.32" cy="202.91" r="1.05" fill="#0000ff"/>
<circle cx="274.63" cy="204.21" r="1.05" fill="#0000ff"/>
<circle cx="273.98" cy="206.18" r="1.05" fill="#0000ff"/>
<circle cx="275.29" cy="205.52" r="1.05" fill="#0000ff"/>
<circle cx="278.56" cy="202.25" r="1.05" fill="#0000ff"/>
<circle cx="294.92" cy="204.21" r="1.05" fill="#0000ff"/>
<circle cx="296.23" cy="206.18" r="1.05" fill="#0000ff"/>
<circle cx="296.88" cy="207.49" r="1.05" fill="#0000ff"/>
<circle cx="262.20" cy="208.14" r="1.05" fill="#0000ff"/>
<circle cx="272.02" cy="208.80" r="1.05" fill="#0000ff"/>
<circle cx="271.36" cy="210.10" r="1.05" fill="#0000ff"/>
<circle cx="281.83" cy="212.07" r="1.05" fill="#0000ff"/>
<circle cx="283.14" cy="213.38" r="1.05" fill="#0000ff"/>
<circle cx="281.83" cy="214.69" r="1.05" fill="#0000ff"/>
<circle cx="285.10" cy="214.69" r="1.05" fill="#0000ff"/>
<circle cx="287.07" cy="214.69" r="1.05" fill="#0000ff"/>
<circle cx="283.14" cy="215.99" r="1.05" fill="#0000ff"/>
<circle cx="295.58" cy="212.07" r="1.05" fill="#0000ff"/>
<circle cx="298.19" cy="211.41" r="1.05" fill="#0000ff"/>
<circle cx="300.16" cy="211.41" r="1.05" fill="#0000ff"/>
<circle cx="298.85" cy="213.38" r="1.05" fill="#0000ff"/>
<circle cx="298.19" cy="215.34" r="1.05" fill="#0000ff"/>
<circle cx="292.96" cy="217.30" r="1.05" fill="#0000ff"/>
<circle cx="294.27" cy="218.61" r="1.05" fill="#0000ff"/>
<circle cx="291.65" cy="219.92" r="1.05" fill="#0000ff"/>
<circle cx="293.61" cy="220.58" r="1.05" fill="#0000ff"/>
<circle cx="295.58" cy="219.92" r="1.05" fill="#0000ff"/>
<circle cx="292.30" cy="221.88" r="1.05" fill="#0000ff"/>
<circle cx="294.92" cy="223.19" r="1.05" fill="#0000ff"/>
<circle cx="291.65" cy="225.16" r="1.05" fill="#0000ff"/>
<circle cx="293.61" cy="224.50" r="1.05" fill="#0000ff"/>
<circle cx="317.02" cy="185.89" r="1.05" fill="#0000ff"/>
<circle cx="316.36" cy="188.51" r="1.05" fill="#0000ff"/>
<circle cx="328.80" cy="189.82" r="1.05" fill="#0000ff"/>
<circle cx="330.10" cy="189.16" r="1.05" fill="#0000ff"/>
<circle cx="329.45" cy="193.09" r="1.05" fill="#0000ff"/>
<circle cx="312.43" cy="198.98" r="1.05" fill="#0000ff"/>
<circle cx="314.40" cy="200.94" r="1.05" fill="#0000ff"/>
<circle cx="315.71" cy="202.91" r="1.05" fill="#0000ff"/>
<circle cx="313.09" cy="204.21" r="1.05" fill="#0000ff"/>
<circle cx="311.78" cy="206.83" r="1.05" fill="#0000ff"/>
<circle cx="311.13" cy="208.80" r="1.05" fill="#0000ff"/>
<circle cx="310.47" cy="212.07" r="1.05" fill="#0000ff"/>
<circle cx="312.43" cy="211.41" r="1.05" fill="#0000ff"/>
<circle cx="314.40" cy="211.41" r="1.05" fill="#0000ff"/>
<circle cx="317.02" cy="210.76" r="1.05" fill="#0000ff"/>
<circle cx="313.74" cy="214.69" r="1.05" fill="#0000ff"/>
<circle cx="315.71" cy="215.34" r="1.05" fill="#0000ff"/>
<circle cx="320.29" cy="206.83" r="1.05" fill="#0000ff"/>
<circle cx="322.91" cy="203.56" r="1.05" fill="#0000ff"/>
<circle cx="324.87" cy="204.21" r="1.05" fill="#0000ff"/>
<circle cx="326.83" cy="205.52" r="1.05" fill="#0000ff"/>
<circle cx="328.14" cy="207.49" r="1.05" fill="#0000ff"/>
<circle cx="320.29" cy="211.41" r="1.05" fill="#0000ff"/>
<circle cx="320.94" cy="213.38" r="1.05" fill="#0000ff"/>
<circle cx="322.25" cy="215.99" r="1.05" fill="#0000ff"/>
<circle cx="323.56" cy="217.96" r="1.05" fill="#0000ff"/>
<circle cx="324.87" cy="219.27" r="1.05" fill="#0000ff"/>
<circle cx="326.18" cy="215.99" r="1.05" fill="#0000ff"/>
<circle cx="328.14" cy="214.69" r="1.05" fill="#0000ff"/>
<circle cx="329.45" cy="213.38" r="1.05" fill="#0000ff"/>
<circle cx="319.63" cy="221.23" r="1.05" fill="#0000ff"/>
<circle cx="321.60" cy="221.88" r="1.05" fill="#0000ff"/>
<circle cx="323.56" cy="221.23" r="1.05" fill="#0000ff"/>
<circle cx="318.32" cy="220.58" r="1.05" fill="#0000ff"/>
<circle cx="332.72" cy="198.32" r="1.05" fill="#0000ff"/>
<circle cx="335.34" cy="198.98" r="1.05" fill="#0000ff"/>
<circle cx="333.38" cy="206.18" r="1.05" fill="#0000ff"/>
<circle cx="341.23" cy="200.94" r="1.05" fill="#0000ff"/>
<circle cx="341.88" cy="199.63" r="1.05" fill="#0000ff"/>
<circle cx="343.85" cy="197.02" r="1.05" fill="#0000ff"/>
<circle cx="345.16" cy="193.74" r="1.05" fill="#0000ff"/>
<circle cx="343.19" cy="205.52" r="1.05" fill="#0000ff"/>
<circle cx="343.19" cy="207.49" r="1.05" fill="#0000ff"/>
<circle cx="339.92" cy="204.87" r="1.05" fill="#0000ff"/>
<circle cx="349.08" cy="195.71" r="1.05" fill="#0000ff"/>
<circle cx="331.60" cy="164.70" r="1.05" fill="#0000ff"/>
<circle cx="333.10" cy="167.00" r="1.05" fill="#0000ff"/>
<circle cx="352.80" cy="198.50" r="1.05" fill="#0000ff"/>
<circle cx="343.30" cy="209.50" r="1.05" fill="#0000ff"/>
<circle cx="83.74" cy="159.08" r="1.05" fill="#ff0000"/>
<circle cx="76.41" cy="169.03" r="1.05" fill="#ff0000"/>
<circle cx="78.51" cy="171.13" r="1.05" fill="#ff0000"/>
<circle cx="81.65" cy="170.08" r="1.05" fill="#ff0000"/>
<circle cx="83.22" cy="172.17" r="1.05" fill="#ff0000"/>
<circle cx="79.55" cy="173.74" r="1.05" fill="#ff0000"/>
<circle cx="77.46" cy="173.22" r="1.05" fill="#ff0000"/>
<circle cx="70.13" cy="167.46" r="1.05" fill="#ff0000"/>
<circle cx="84.27" cy="168.51" r="1.05" fill="#ff0000"/>
<circle cx="93.38" cy="164.32" r="1.05" fill="#ff0000"/>
<circle cx="95.47" cy="166.41" r="1.05" fill="#ff0000"/>
<circle cx="104.37" cy="164.84" r="1.05" fill="#ff0000"/>
<circle cx="105.42" cy="166.41" r="1.05" fill="#ff0000"/>
<circle cx="101.75" cy="167.46" r="1.05" fill="#ff0000"/>
<circle cx="103.32" cy="167.98" r="1.05" fill="#ff0000"/>
<circle cx="97.57" cy="169.03" r="1.05" fill="#ff0000"/>
<circle cx="98.61" cy="170.60" r="1.05" fill="#ff0000"/>
<circle cx="99.66" cy="171.65" r="1.05" fill="#ff0000"/>
<circle cx="102.28" cy="172.17" r="1.05" fill="#ff0000"/>
<circle cx="105.94" cy="172.17" r="1.05" fill="#ff0000"/>
<circle cx="107.51" cy="172.17" r="1.05" fill="#ff0000"/>
<circle cx="114.84" cy="171.13" r="1.05" fill="#ff0000"/>
<circle cx="85.52" cy="164.84" r="1.05" fill="#ff0000"/>
<circle cx="87.62" cy="169.55" r="1.05" fill="#ff0000"/>
<circle cx="89.19" cy="171.13" r="1.05" fill="#ff0000"/>
<circle cx="90.76" cy="171.65" r="1.05" fill="#ff0000"/>
<circle cx="96.52" cy="173.74" r="1.05" fill="#ff0000"/>
<circle cx="103.32" cy="174.27" r="1.05" fill="#ff0000"/>
<circle cx="86.05" cy="170.08" r="1.05" fill="#ff0000"/>
<circle cx="45.76" cy="178.38" r="1.05" fill="#ff0000"/>
<circle cx="47.85" cy="182.57" r="1.05" fill="#ff0000"/>
<circle cx="52.57" cy="189.90" r="1.05" fill="#ff0000"/>
<circle cx="58.32" cy="185.18" r="1.05" fill="#ff0000"/>
<circle cx="57.80" cy="187.28" r="1.05" fill="#ff0000"/>
<circle cx="60.94" cy="191.99" r="1.05" fill="#ff0000"/>
<circle cx="64.61" cy="194.61" r="1.05" fill="#ff0000"/>
<circle cx="60.42" cy="197.23" r="1.05" fill="#ff0000"/>
<circle cx="48.38" cy="196.70" r="1.05" fill="#ff0000"/>
<circle cx="69.32" cy="199.32" r="1.05" fill="#ff0000"/>
<circle cx="72.98" cy="197.75" r="1.05" fill="#ff0000"/>
<circle cx="77.70" cy="188.32" r="1.05" fill="#ff0000"/>
<circle cx="73.51" cy="188.85" r="1.05" fill="#ff0000"/>
<circle cx="72.46" cy="190.42" r="1.05" fill="#ff0000"/>
<circle cx="74.03" cy="191.47" r="1.05" fill="#ff0000"/>
<circle cx="69.32" cy="183.61" r="1.05" fill="#ff0000"/>
<circle cx="70.37" cy="185.71" r="1.05" fill="#ff0000"/>
<circle cx="67.23" cy="185.71" r="1.05" fill="#ff0000"/>
<circle cx="65.65" cy="186.75" r="1.05" fill="#ff0000"/>
<circle cx="64.08" cy="186.23" r="1.05" fill="#ff0000"/>
<circle cx="68.27" cy="187.80" r="1.05" fill="#ff0000"/>
<circle cx="69.84" cy="189.37" r="1.05" fill="#ff0000"/>
<circle cx="66.70" cy="191.47" r="1.05" fill="#ff0000"/>
<circle cx="71.41" cy="183.09" r="1.05" fill="#ff0000"/>
<circle cx="75.60" cy="180.47" r="1.05" fill="#ff0000"/>
<circle cx="76.65" cy="182.04" r="1.05" fill="#ff0000"/>
<circle cx="78.22" cy="183.61" r="1.05" fill="#ff0000"/>
<circle cx="79.27" cy="181.52" r="1.05" fill="#ff0000"/>
<circle cx="72.98" cy="182.57" r="1.05" fill="#ff0000"/>
<circle cx="64.08" cy="178.38" r="1.05" fill="#ff0000"/>
<circle cx="66.18" cy="179.95" r="1.05" fill="#ff0000"/>
<circle cx="62.51" cy="179.42" r="1.05" fill="#ff0000"/>
<circle cx="77.09" cy="171.28" r="1.05" fill="#ff0000"/>
<circle cx="79.71" cy="171.28" r="1.05" fill="#ff0000"/>
<circle cx="84.95" cy="172.85" r="1.05" fill="#ff0000"/>
<circle cx="86.52" cy="173.38" r="1.05" fill="#ff0000"/>
<circle cx="88.09" cy="174.95" r="1.05" fill="#ff0000"/>
<circle cx="90.71" cy="174.42" r="1.05" fill="#ff0000"/>
<circle cx="92.28" cy="173.90" r="1.05" fill="#ff0000"/>
<circle cx="100.65" cy="170.76" r="1.05" fill="#ff0000"/>
<circle cx="95.94" cy="174.95" r="1.05" fill="#ff0000"/>
<circle cx="98.04" cy="173.90" r="1.05" fill="#ff0000"/>
<circle cx="100.13" cy="176.52" r="1.05" fill="#ff0000"/>
<circle cx="94.37" cy="176.52" r="1.05" fill="#ff0000"/>
<circle cx="91.75" cy="177.57" r="1.05" fill="#ff0000"/>
<circle cx="89.14" cy="177.57" r="1.05" fill="#ff0000"/>
<circle cx="85.99" cy="180.71" r="1.05" fill="#ff0000"/>
<circle cx="83.90" cy="179.14" r="1.05" fill="#ff0000"/>
<circle cx="81.28" cy="179.66" r="1.05" fill="#ff0000"/>
<circle cx="78.14" cy="180.71" r="1.05" fill="#ff0000"/>
<circle cx="81.81" cy="182.80" r="1.05" fill="#ff0000"/>
<circle cx="83.38" cy="183.85" r="1.05" fill="#ff0000"/>
<circle cx="85.99" cy="183.85" r="1.05" fill="#ff0000"/>
<circle cx="88.09" cy="182.28" r="1.05" fill="#ff0000"/>
<circle cx="89.66" cy="181.75" r="1.05" fill="#ff0000"/>
<circle cx="92.28" cy="180.71" r="1.05" fill="#ff0000"/>
<circle cx="94.37" cy="180.71" r="1.05" fill="#ff0000"/>
<circle cx="96.47" cy="180.18" r="1.05" fill="#ff0000"/>
<circle cx="99.08" cy="178.61" r="1.05" fill="#ff0000"/>
<circle cx="102.23" cy="177.57" r="1.05" fill="#ff0000"/>
<circle cx="105.37" cy="176.52" r="1.05" fill="#ff0000"/>
<circle cx="107.98" cy="175.47" r="1.05" fill="#ff0000"/>
<circle cx="103.80" cy="180.71" r="1.05" fill="#ff0000"/>
<circle cx="78.66" cy="187.51" r="1.05" fill="#ff0000"/>
<circle cx="80.76" cy="185.94" r="1.05" fill="#ff0000"/>
<circle cx="82.33" cy="190.13" r="1.05" fill="#ff0000"/>
<circle cx="83.90" cy="188.56" r="1.05" fill="#ff0000"/>
<circle cx="87.04" cy="188.04" r="1.05" fill="#ff0000"/>
<circle cx="89.66" cy="188.56" r="1.05" fill="#ff0000"/>
<circle cx="89.66" cy="190.13" r="1.05" fill="#ff0000"/>
<circle cx="94.37" cy="186.99" r="1.05" fill="#ff0000"/>
<circle cx="96.99" cy="189.08" r="1.05" fill="#ff0000"/>
<circle cx="101.70" cy="184.90" r="1.05" fill="#ff0000"/>
<circle cx="104.32" cy="185.42" r="1.05" fill="#ff0000"/>
<circle cx="106.41" cy="186.47" r="1.05" fill="#ff0000"/>
<circle cx="112.17" cy="184.37" r="1.05" fill="#ff0000"/>
<circle cx="94.37" cy="193.27" r="1.05" fill="#ff0000"/>
<circle cx="84.42" cy="196.41" r="1.05" fill="#ff0000"/>
<circle cx="93.85" cy="199.55" r="1.05" fill="#ff0000"/>
<circle cx="96.99" cy="178.61" r="1.05" fill="#ff0000"/>
<circle cx="99.08" cy="180.71" r="1.05" fill="#ff0000"/>
<circle cx="105.97" cy="165.00" r="1.05" fill="#ff0000"/>
<circle cx="102.56" cy="175.23" r="1.05" fill="#ff0000"/>
<circle cx="103.41" cy="177.79" r="1.05" fill="#ff0000"/>
<circle cx="105.12" cy="181.20" r="1.05" fill="#ff0000"/>
<circle cx="116.20" cy="190.92" r="1.05" fill="#ff0000"/>
<circle cx="121.65" cy="196.03" r="1.05" fill="#ff0000"/>
<circle cx="105.12" cy="213.08" r="1.05" fill="#ff0000"/>
<circle cx="64.80" cy="211.43" r="1.05" fill="#ff0000"/>
<circle cx="73.27" cy="216.14" r="1.05" fill="#ff0000"/>
<circle cx="80.49" cy="209.13" r="1.05" fill="#ff0000"/>
<circle cx="88.13" cy="210.70" r="1.05" fill="#ff0000"/>
<circle cx="98.91" cy="225.34" r="1.05" fill="#ff0000"/>
<circle cx="131.10" cy="163.80" r="1.05" fill="#ff0000"/>
<circle cx="81.39" cy="174.56" r="1.05" fill="#ff0000"/>
<circle cx="73.68" cy="180.63" r="1.05" fill="#ff0000"/>
<circle cx="84.31" cy="186.06" r="1.05" fill="#ff0000"/>
<circle cx="95.04" cy="183.88" r="1.05" fill="#ff0000"/>
<circle cx="100.43" cy="174.01" r="1.05" fill="#ff0000"/>
<circle cx="88.82" cy="179.76" r="1.05" fill="#ff0000"/>
<circle cx="73.71" cy="185.06" r="1.05" fill="#ff0000"/>
<circle cx="82.40" cy="187.03" r="1.05" fill="#ff0000"/>
<circle cx="99.64" cy="183.74" r="1.05" fill="#ff0000"/>
<circle cx="98.09" cy="185.26" r="1.05" fill="#ff0000"/>
<circle cx="72.74" cy="186.86" r="1.05" fill="#ff0000"/>
<circle cx="79.57" cy="178.23" r="1.05" fill="#ff0000"/>
<circle cx="76.84" cy="185.12" r="1.05" fill="#ff0000"/>
<circle cx="87.45" cy="185.24" r="1.05" fill="#ff0000"/>
<circle cx="99.17" cy="188.80" r="1.05" fill="#ff0000"/>
<circle cx="90.94" cy="185.59" r="1.05" fill="#ff0000"/>
<circle cx="75.80" cy="187.47" r="1.05" fill="#ff0000"/>
<circle cx="84.76" cy="175.11" r="1.05" fill="#ff0000"/>
<circle cx="86.95" cy="177.76" r="1.05" fill="#ff0000"/>
<circle cx="75.04" cy="176.51" r="1.05" fill="#ff0000"/>
<circle cx="91.94" cy="188.70" r="1.05" fill="#ff0000"/>
<circle cx="92.50" cy="182.81" r="1.05" fill="#ff0000"/>
<circle cx="72.43" cy="138.66" r="1.05" fill="#0000ff"/>
<circle cx="69.08" cy="140.97" r="1.05" fill="#0000ff"/>
<circle cx="61.96" cy="151.75" r="1.05" fill="#0000ff"/>
<circle cx="75.37" cy="151.75" r="1.05" fill="#0000ff"/>
<circle cx="81.13" cy="151.75" r="1.05" fill="#0000ff"/>
<circle cx="56.31" cy="154.69" r="1.05" fill="#0000ff"/>
<circle cx="57.57" cy="156.47" r="1.05" fill="#0000ff"/>
<circle cx="71.70" cy="154.37" r="1.05" fill="#0000ff"/>
<circle cx="74.32" cy="155.42" r="1.05" fill="#0000ff"/>
<circle cx="78.51" cy="154.37" r="1.05" fill="#0000ff"/>
<circle cx="64.90" cy="157.83" r="1.05" fill="#0000ff"/>
<circle cx="67.51" cy="157.51" r="1.05" fill="#0000ff"/>
<circle cx="72.75" cy="157.51" r="1.05" fill="#0000ff"/>
<circle cx="75.37" cy="156.99" r="1.05" fill="#0000ff"/>
<circle cx="76.94" cy="159.61" r="1.05" fill="#0000ff"/>
<circle cx="73.27" cy="159.61" r="1.05" fill="#0000ff"/>
<circle cx="71.18" cy="160.65" r="1.05" fill="#0000ff"/>
<circle cx="55.47" cy="160.13" r="1.05" fill="#0000ff"/>
<circle cx="54.95" cy="161.70" r="1.05" fill="#0000ff"/>
<circle cx="66.47" cy="160.13" r="1.05" fill="#0000ff"/>
<circle cx="67.51" cy="162.75" r="1.05" fill="#0000ff"/>
<circle cx="65.94" cy="161.70" r="1.05" fill="#0000ff"/>
<circle cx="69.08" cy="163.27" r="1.05" fill="#0000ff"/>
<circle cx="72.23" cy="163.27" r="1.05" fill="#0000ff"/>
<circle cx="75.37" cy="162.75" r="1.05" fill="#0000ff"/>
<circle cx="77.46" cy="163.27" r="1.05" fill="#0000ff"/>
<circle cx="80.60" cy="160.65" r="1.05" fill="#0000ff"/>
<circle cx="82.17" cy="161.70" r="1.05" fill="#0000ff"/>
<circle cx="58.61" cy="163.80" r="1.05" fill="#0000ff"/>
<circle cx="56.52" cy="166.41" r="1.05" fill="#0000ff"/>
<circle cx="54.42" cy="167.98" r="1.05" fill="#0000ff"/>
<circle cx="60.71" cy="165.89" r="1.05" fill="#0000ff"/>
<circle cx="63.32" cy="166.41" r="1.05" fill="#0000ff"/>
<circle cx="65.94" cy="166.94" r="1.05" fill="#0000ff"/>
<circle cx="68.56" cy="167.46" r="1.05" fill="#0000ff"/>
<circle cx="70.13" cy="168.51" r="1.05" fill="#0000ff"/>
<circle cx="67.51" cy="169.55" r="1.05" fill="#0000ff"/>
<circle cx="65.42" cy="170.60" r="1.05" fill="#0000ff"/>
<circle cx="69.08" cy="171.13" r="1.05" fill="#0000ff"/>
<circle cx="72.23" cy="169.55" r="1.05" fill="#0000ff"/>
<circle cx="74.32" cy="168.51" r="1.05" fill="#0000ff"/>
<circle cx="76.41" cy="166.41" r="1.05" fill="#0000ff"/>
<circle cx="79.55" cy="165.37" r="1.05" fill="#0000ff"/>
<circle cx="81.65" cy="166.41" r="1.05" fill="#0000ff"/>
<circle cx="82.17" cy="168.51" r="1.05" fill="#0000ff"/>
<circle cx="52.33" cy="171.13" r="1.05" fill="#0000ff"/>
<circle cx="56.52" cy="171.13" r="1.05" fill="#0000ff"/>
<circle cx="59.66" cy="170.60" r="1.05" fill="#0000ff"/>
<circle cx="62.28" cy="171.65" r="1.05" fill="#0000ff"/>
<circle cx="64.90" cy="172.70" r="1.05" fill="#0000ff"/>
<circle cx="67.51" cy="173.74" r="1.05" fill="#0000ff"/>
<circle cx="71.18" cy="172.70" r="1.05" fill="#0000ff"/>
<circle cx="74.32" cy="172.17" r="1.05" fill="#0000ff"/>
<circle cx="76.41" cy="171.13" r="1.05" fill="#0000ff"/>
<circle cx="59.14" cy="174.27" r="1.05" fill="#0000ff"/>
<circle cx="61.75" cy="173.74" r="1.05" fill="#0000ff"/>
<circle cx="80.60" cy="170.60" r="1.05" fill="#0000ff"/>
<circle cx="83.74" cy="165.37" r="1.05" fill="#0000ff"/>
<circle cx="98.09" cy="138.46" r="1.05" fill="#0000ff"/>
<circle cx="86.05" cy="144.21" r="1.05" fill="#0000ff"/>
<circle cx="99.14" cy="155.42" r="1.05" fill="#0000ff"/>
<circle cx="86.57" cy="159.08" r="1.05" fill="#0000ff"/>
<circle cx="90.76" cy="159.08" r="1.05" fill="#0000ff"/>
<circle cx="92.85" cy="160.65" r="1.05" fill="#0000ff"/>
<circle cx="88.14" cy="162.75" r="1.05" fill="#0000ff"/>
<circle cx="89.71" cy="162.23" r="1.05" fill="#0000ff"/>
<circle cx="111.70" cy="160.65" r="1.05" fill="#0000ff"/>
<circle cx="106.99" cy="164.84" r="1.05" fill="#0000ff"/>
<circle cx="117.98" cy="168.51" r="1.05" fill="#0000ff"/>
<circle cx="87.09" cy="165.89" r="1.05" fill="#0000ff"/>
<circle cx="91.81" cy="164.84" r="1.05" fill="#0000ff"/>
<circle cx="94.95" cy="166.41" r="1.05" fill="#0000ff"/>
<circle cx="86.57" cy="168.51" r="1.05" fill="#0000ff"/>
<circle cx="89.19" cy="168.51" r="1.05" fill="#0000ff"/>
<circle cx="90.24" cy="169.55" r="1.05" fill="#0000ff"/>
<circle cx="86.05" cy="171.65" r="1.05" fill="#0000ff"/>
<circle cx="93.90" cy="172.17" r="1.05" fill="#0000ff"/>
<circle cx="103.85" cy="173.74" r="1.05" fill="#0000ff"/>
<circle cx="87.09" cy="173.74" r="1.05" fill="#0000ff"/>
<circle cx="85.52" cy="166.94" r="1.05" fill="#0000ff"/>
<circle cx="60.94" cy="171.57" r="1.05" fill="#0000ff"/>
<circle cx="64.08" cy="170.52" r="1.05" fill="#0000ff"/>
<circle cx="67.23" cy="171.05" r="1.05" fill="#0000ff"/>
<circle cx="71.41" cy="171.05" r="1.05" fill="#0000ff"/>
<circle cx="60.42" cy="174.71" r="1.05" fill="#0000ff"/>
<circle cx="65.13" cy="174.71" r="1.05" fill="#0000ff"/>
<circle cx="70.37" cy="174.71" r="1.05" fill="#0000ff"/>
<circle cx="73.51" cy="175.24" r="1.05" fill="#0000ff"/>
<circle cx="76.13" cy="174.71" r="1.05" fill="#0000ff"/>
<circle cx="78.74" cy="174.19" r="1.05" fill="#0000ff"/>
<circle cx="51.52" cy="175.76" r="1.05" fill="#0000ff"/>
<circle cx="56.23" cy="177.33" r="1.05" fill="#0000ff"/>
<circle cx="57.80" cy="176.81" r="1.05" fill="#0000ff"/>
<circle cx="59.37" cy="178.38" r="1.05" fill="#0000ff"/>
<circle cx="60.42" cy="179.42" r="1.05" fill="#0000ff"/>
<circle cx="63.04" cy="177.85" r="1.05" fill="#0000ff"/>
<circle cx="66.18" cy="177.33" r="1.05" fill="#0000ff"/>
<circle cx="69.32" cy="178.38" r="1.05" fill="#0000ff"/>
<circle cx="71.41" cy="177.85" r="1.05" fill="#0000ff"/>
<circle cx="74.55" cy="178.90" r="1.05" fill="#0000ff"/>
<circle cx="77.70" cy="177.85" r="1.05" fill="#0000ff"/>
<circle cx="48.90" cy="178.90" r="1.05" fill="#0000ff"/>
<circle cx="51.52" cy="183.61" r="1.05" fill="#0000ff"/>
<circle cx="41.57" cy="189.37" r="1.05" fill="#0000ff"/>
<circle cx="43.14" cy="189.90" r="1.05" fill="#0000ff"/>
<circle cx="67.75" cy="180.99" r="1.05" fill="#0000ff"/>
<circle cx="54.66" cy="177.85" r="1.05" fill="#0000ff"/>
<circle cx="77.70" cy="172.09" r="1.05" fill="#0000ff"/>
<circle cx="79.19" cy="166.57" r="1.05" fill="#0000ff"/>
<circle cx="88.61" cy="166.57" r="1.05" fill="#0000ff"/>
<circle cx="78.14" cy="169.19" r="1.05" fill="#0000ff"/>
<circle cx="83.38" cy="168.66" r="1.05" fill="#0000ff"/>
<circle cx="85.47" cy="169.19" r="1.05" fill="#0000ff"/>
<circle cx="87.57" cy="170.76" r="1.05" fill="#0000ff"/>
<circle cx="89.66" cy="171.28" r="1.05" fill="#0000ff"/>
<circle cx="76.05" cy="173.38" r="1.05" fill="#0000ff"/>
<circle cx="77.62" cy="174.95" r="1.05" fill="#0000ff"/>
<circle cx="79.71" cy="175.99" r="1.05" fill="#0000ff"/>
<circle cx="81.81" cy="177.57" r="1.05" fill="#0000ff"/>
<circle cx="84.95" cy="178.09" r="1.05" fill="#0000ff"/>
<circle cx="56.04" cy="163.40" r="1.05" fill="#0000ff"/>
<circle cx="72.14" cy="166.06" r="1.05" fill="#0000ff"/>
<circle cx="63.82" cy="155.69" r="1.05" fill="#0000ff"/>
<circle cx="60.53" cy="162.94" r="1.05" fill="#0000ff"/>
<circle cx="78.42" cy="156.45" r="1.05" fill="#0000ff"/>
<circle cx="58.53" cy="160.84" r="1.05" fill="#0000ff"/>
<circle cx="61.01" cy="160.59" r="1.05" fill="#0000ff"/>
<circle cx="63.13" cy="175.80" r="1.05" fill="#0000ff"/>
<circle cx="88.39" cy="157.92" r="1.05" fill="#0000ff"/>
<circle cx="86.65" cy="161.38" r="1.05" fill="#0000ff"/>
<circle cx="68.69" cy="176.04" r="1.05" fill="#0000ff"/>
<circle cx="80.47" cy="156.09" r="1.05" fill="#0000ff"/>
<circle cx="65.73" cy="156.08" r="1.05" fill="#0000ff"/>
<circle cx="61.69" cy="158.56" r="1.05" fill="#0000ff"/>
<circle cx="64.13" cy="160.68" r="1.05" fill="#0000ff"/>
<circle cx="81.49" cy="164.08" r="1.05" fill="#0000ff"/>
<circle cx="85.68" cy="155.48" r="1.05" fill="#0000ff"/>
<circle cx="59.71" cy="158.40" r="1.05" fill="#0000ff"/>
<rect x="76.11" y="283.59" width="1.50" height="1.30" fill="#ff1a1a" stroke="none" stroke-width="1" />
<rect x="92.70" y="300.03" width="1.50" height="1.30" fill="#ff1a1a" stroke="none" stroke-width="1" />
<rect x="69.08" y="306.46" width="1.50" height="1.30" fill="#ff1a1a" stroke="none" stroke-width="1" />
<rect x="73.57" y="314.68" width="1.50" height="1.30" fill="#ff1a1a" stroke="none" stroke-width="1" />
<rect x="91.50" y="314.98" width="1.50" height="1.30" fill="#ff1a1a" stroke="none" stroke-width="1" />
<rect x="95.99" y="316.47" width="1.50" height="1.30" fill="#ff1a1a" stroke="none" stroke-width="1" />
<rect x="115.42" y="318.71" width="1.50" height="1.30" fill="#ff1a1a" stroke="none" stroke-width="1" />
<rect x="131.14" y="304.60" width="1.50" height="1.30" fill="#ff1a1a" stroke="none" stroke-width="1" />
<rect x="142.91" y="316.68" width="1.50" height="1.30" fill="#ff1a1a" stroke="none" stroke-width="1" />
<rect x="149.98" y="318.73" width="1.50" height="1.30" fill="#ff1a1a" stroke="none" stroke-width="1" />
<rect x="171.17" y="317.63" width="1.50" height="1.30" fill="#ff1a1a" stroke="none" stroke-width="1" />
<rect x="184.36" y="315.59" width="1.50" height="1.30" fill="#ff1a1a" stroke="none" stroke-width="1" />
<rect x="108.03" y="320.21" width="1.50" height="1.30" fill="#ff1a1a" stroke="none" stroke-width="1" />
<rect x="107.35" y="324.29" width="1.50" height="1.30" fill="#ff1a1a" stroke="none" stroke-width="1" />
<rect x="86.92" y="325.66" width="1.50" height="1.30" fill="#ff1a1a" stroke="none" stroke-width="1" />
<rect x="85.56" y="327.70" width="1.50" height="1.30" fill="#ff1a1a" stroke="none" stroke-width="1" />
<rect x="93.05" y="327.70" width="1.50" height="1.30" fill="#ff1a1a" stroke="none" stroke-width="1" />
<rect x="79.42" y="331.79" width="1.50" height="1.30" fill="#ff1a1a" stroke="none" stroke-width="1" />
<rect x="83.51" y="333.83" width="1.50" height="1.30" fill="#ff1a1a" stroke="none" stroke-width="1" />
<rect x="116.21" y="332.47" width="1.50" height="1.30" fill="#ff1a1a" stroke="none" stroke-width="1" />
<rect x="117.57" y="333.15" width="1.50" height="1.30" fill="#ff1a1a" stroke="none" stroke-width="1" />
<rect x="120.98" y="327.02" width="1.50" height="1.30" fill="#ff1a1a" stroke="none" stroke-width="1" />
<rect x="72.61" y="337.24" width="1.50" height="1.30" fill="#ff1a1a" stroke="none" stroke-width="1" />
<rect x="82.15" y="339.28" width="1.50" height="1.30" fill="#ff1a1a" stroke="none" stroke-width="1" />
<rect x="81.47" y="340.64" width="1.50" height="1.30" fill="#ff1a1a" stroke="none" stroke-width="1" />
<rect x="86.24" y="342.00" width="1.50" height="1.30" fill="#ff1a1a" stroke="none" stroke-width="1" />
<rect x="97.14" y="341.32" width="1.50" height="1.30" fill="#ff1a1a" stroke="none" stroke-width="1" />
<rect x="99.18" y="337.92" width="1.50" height="1.30" fill="#ff1a1a" stroke="none" stroke-width="1" />
<rect x="103.27" y="337.24" width="1.50" height="1.30" fill="#ff1a1a" stroke="none" stroke-width="1" />
<rect x="102.59" y="342.00" width="1.50" height="1.30" fill="#ff1a1a" stroke="none" stroke-width="1" />
<rect x="110.76" y="339.28" width="1.50" height="1.30" fill="#ff1a1a" stroke="none" stroke-width="1" />
<rect x="114.17" y="340.64" width="1.50" height="1.30" fill="#ff1a1a" stroke="none" stroke-width="1" />
<rect x="112.12" y="343.37" width="1.50" height="1.30" fill="#ff1a1a" stroke="none" stroke-width="1" />
<rect x="114.85" y="343.37" width="1.50" height="1.30" fill="#ff1a1a" stroke="none" stroke-width="1" />
<rect x="116.89" y="342.69" width="1.50" height="1.30" fill="#ff1a1a" stroke="none" stroke-width="1" />
<rect x="90.32" y="344.73" width="1.50" height="1.30" fill="#ff1a1a" stroke="none" stroke-width="1" />
<rect x="94.41" y="344.05" width="1.50" height="1.30" fill="#ff1a1a" stroke="none" stroke-width="1" />
<rect x="101.90" y="344.73" width="1.50" height="1.30" fill="#ff1a1a" stroke="none" stroke-width="1" />
<rect x="74.66" y="348.82" width="1.50" height="1.30" fill="#ff1a1a" stroke="none" stroke-width="1" />
<rect x="83.51" y="350.86" width="1.50" height="1.30" fill="#ff1a1a" stroke="none" stroke-width="1" />
<rect x="88.96" y="348.13" width="1.50" height="1.30" fill="#ff1a1a" stroke="none" stroke-width="1" />
<rect x="100.54" y="348.82" width="1.50" height="1.30" fill="#ff1a1a" stroke="none" stroke-width="1" />
<rect x="103.95" y="351.54" width="1.50" height="1.30" fill="#ff1a1a" stroke="none" stroke-width="1" />
<rect x="105.99" y="350.18" width="1.50" height="1.30" fill="#ff1a1a" stroke="none" stroke-width="1" />
<rect x="107.35" y="350.18" width="1.50" height="1.30" fill="#ff1a1a" stroke="none" stroke-width="1" />
<rect x="109.40" y="349.50" width="1.50" height="1.30" fill="#ff1a1a" stroke="none" stroke-width="1" />
<rect x="71.25" y="350.86" width="1.50" height="1.30" fill="#ff1a1a" stroke="none" stroke-width="1" />
<rect x="78.06" y="354.95" width="1.50" height="1.30" fill="#ff1a1a" stroke="none" stroke-width="1" />
<rect x="73.97" y="358.35" width="1.50" height="1.30" fill="#ff1a1a" stroke="none" stroke-width="1" />
<rect x="103.27" y="356.31" width="1.50" height="1.30" fill="#ff1a1a" stroke="none" stroke-width="1" />
<rect x="105.99" y="356.99" width="1.50" height="1.30" fill="#ff1a1a" stroke="none" stroke-width="1" />
<rect x="118.93" y="354.95" width="1.50" height="1.30" fill="#ff1a1a" stroke="none" stroke-width="1" />
<rect x="119.62" y="352.22" width="1.50" height="1.30" fill="#ff1a1a" stroke="none" stroke-width="1" />
<rect x="53.95" y="327.97" width="1.50" height="1.30" fill="#ff1a1a" stroke="none" stroke-width="1" />
<rect x="36.92" y="330.70" width="1.50" height="1.30" fill="#ff1a1a" stroke="none" stroke-width="1" />
<rect x="63.48" y="331.79" width="1.50" height="1.30" fill="#ff1a1a" stroke="none" stroke-width="1" />
<rect x="64.85" y="331.51" width="1.50" height="1.30" fill="#ff1a1a" stroke="none" stroke-width="1" />
<rect x="33.51" y="335.87" width="1.50" height="1.30" fill="#ff1a1a" stroke="none" stroke-width="1" />
<rect x="34.87" y="335.87" width="1.50" height="1.30" fill="#ff1a1a" stroke="none" stroke-width="1" />
<rect x="34.19" y="337.24" width="1.50" height="1.30" fill="#ff1a1a" stroke="none" stroke-width="1" />
<rect x="41.00" y="337.24" width="1.50" height="1.30" fill="#ff1a1a" stroke="none" stroke-width="1" />
<rect x="43.05" y="337.92" width="1.50" height="1.30" fill="#ff1a1a" stroke="none" stroke-width="1" />
<rect x="46.45" y="335.19" width="1.50" height="1.30" fill="#ff1a1a" stroke="none" stroke-width="1" />
<rect x="49.86" y="337.24" width="1.50" height="1.30" fill="#ff1a1a" stroke="none" stroke-width="1" />
<rect x="53.27" y="335.60" width="1.50" height="1.30" fill="#ff1a1a" stroke="none" stroke-width="1" />
<rect x="55.99" y="338.33" width="1.50" height="1.30" fill="#ff1a1a" stroke="none" stroke-width="1" />
<rect x="58.03" y="335.60" width="1.50" height="1.30" fill="#ff1a1a" stroke="none" stroke-width="1" />
<rect x="62.12" y="336.15" width="1.50" height="1.30" fill="#ff1a1a" stroke="none" stroke-width="1" />
<rect x="61.44" y="339.28" width="1.50" height="1.30" fill="#ff1a1a" stroke="none" stroke-width="1" />
<rect x="64.85" y="340.64" width="1.50" height="1.30" fill="#ff1a1a" stroke="none" stroke-width="1" />
<rect x="68.25" y="342.00" width="1.50" height="1.30" fill="#ff1a1a" stroke="none" stroke-width="1" />
<rect x="35.56" y="340.64" width="1.50" height="1.30" fill="#ff1a1a" stroke="none" stroke-width="1" />
<rect x="43.73" y="340.64" width="1.50" height="1.30" fill="#ff1a1a" stroke="none" stroke-width="1" />
<rect x="45.09" y="341.32" width="1.50" height="1.30" fill="#ff1a1a" stroke="none" stroke-width="1" />
<rect x="47.14" y="339.96" width="1.50" height="1.30" fill="#ff1a1a" stroke="none" stroke-width="1" />
<rect x="57.35" y="342.96" width="1.50" height="1.30" fill="#ff1a1a" stroke="none" stroke-width="1" />
<rect x="29.42" y="344.05" width="1.50" height="1.30" fill="#ff1a1a" stroke="none" stroke-width="1" />
<rect x="30.79" y="343.78" width="1.50" height="1.30" fill="#ff1a1a" stroke="none" stroke-width="1" />
<rect x="36.92" y="346.50" width="1.50" height="1.30" fill="#ff1a1a" stroke="none" stroke-width="1" />
<rect x="39.64" y="345.14" width="1.50" height="1.30" fill="#ff1a1a" stroke="none" stroke-width="1" />
<rect x="41.00" y="345.41" width="1.50" height="1.30" fill="#ff1a1a" stroke="none" stroke-width="1" />
<rect x="53.27" y="346.09" width="1.50" height="1.30" fill="#ff1a1a" stroke="none" stroke-width="1" />
<rect x="60.76" y="346.09" width="1.50" height="1.30" fill="#ff1a1a" stroke="none" stroke-width="1" />
<rect x="66.89" y="346.50" width="1.50" height="1.30" fill="#ff1a1a" stroke="none" stroke-width="1" />
<rect x="58.03" y="348.41" width="1.50" height="1.30" fill="#ff1a1a" stroke="none" stroke-width="1" />
<rect x="63.48" y="350.86" width="1.50" height="1.30" fill="#ff1a1a" stroke="none" stroke-width="1" />
<rect x="58.03" y="353.58" width="1.50" height="1.30" fill="#ff1a1a" stroke="none" stroke-width="1" />
<rect x="53.27" y="358.35" width="1.50" height="1.30" fill="#ff1a1a" stroke="none" stroke-width="1" />
<rect x="54.63" y="359.03" width="1.50" height="1.30" fill="#ff1a1a" stroke="none" stroke-width="1" />
<rect x="65.53" y="359.72" width="1.50" height="1.30" fill="#ff1a1a" stroke="none" stroke-width="1" />
<rect x="121.93" y="327.70" width="1.50" height="1.30" fill="#ff1a1a" stroke="none" stroke-width="1" />
<rect x="123.29" y="330.42" width="1.50" height="1.30" fill="#ff1a1a" stroke="none" stroke-width="1" />
<rect x="134.87" y="326.34" width="1.50" height="1.30" fill="#ff1a1a" stroke="none" stroke-width="1" />
<rect x="133.51" y="327.70" width="1.50" height="1.30" fill="#ff1a1a" stroke="none" stroke-width="1" />
<rect x="138.96" y="324.97" width="1.50" height="1.30" fill="#ff1a1a" stroke="none" stroke-width="1" />
<rect x="140.32" y="326.61" width="1.50" height="1.30" fill="#ff1a1a" stroke="none" stroke-width="1" />
<rect x="138.28" y="331.10" width="1.50" height="1.30" fill="#ff1a1a" stroke="none" stroke-width="1" />
<rect x="165.53" y="325.66" width="1.50" height="1.30" fill="#ff1a1a" stroke="none" stroke-width="1" />
<rect x="168.93" y="331.10" width="1.50" height="1.30" fill="#ff1a1a" stroke="none" stroke-width="1" />
<rect x="126.02" y="335.19" width="1.50" height="1.30" fill="#ff1a1a" stroke="none" stroke-width="1" />
<rect x="125.34" y="337.92" width="1.50" height="1.30" fill="#ff1a1a" stroke="none" stroke-width="1" />
<rect x="123.29" y="339.96" width="1.50" height="1.30" fill="#ff1a1a" stroke="none" stroke-width="1" />
<rect x="128.74" y="339.28" width="1.50" height="1.30" fill="#ff1a1a" stroke="none" stroke-width="1" />
<rect x="138.96" y="339.96" width="1.50" height="1.30" fill="#ff1a1a" stroke="none" stroke-width="1" />
<rect x="150.54" y="336.96" width="1.50" height="1.30" fill="#ff1a1a" stroke="none" stroke-width="1" />
<rect x="154.63" y="333.83" width="1.50" height="1.30" fill="#ff1a1a" stroke="none" stroke-width="1" />
<rect x="157.35" y="332.47" width="1.50" height="1.30" fill="#ff1a1a" stroke="none" stroke-width="1" />
<rect x="158.72" y="334.51" width="1.50" height="1.30" fill="#ff1a1a" stroke="none" stroke-width="1" />
<rect x="160.76" y="333.83" width="1.50" height="1.30" fill="#ff1a1a" stroke="none" stroke-width="1" />
<rect x="155.99" y="339.28" width="1.50" height="1.30" fill="#ff1a1a" stroke="none" stroke-width="1" />
<rect x="160.08" y="339.28" width="1.50" height="1.30" fill="#ff1a1a" stroke="none" stroke-width="1" />
<rect x="163.48" y="341.32" width="1.50" height="1.30" fill="#ff1a1a" stroke="none" stroke-width="1" />
<rect x="164.85" y="342.69" width="1.50" height="1.30" fill="#ff1a1a" stroke="none" stroke-width="1" />
<rect x="126.70" y="344.05" width="1.50" height="1.30" fill="#ff1a1a" stroke="none" stroke-width="1" />
<rect x="147.14" y="344.05" width="1.50" height="1.30" fill="#ff1a1a" stroke="none" stroke-width="1" />
<rect x="154.63" y="342.69" width="1.50" height="1.30" fill="#ff1a1a" stroke="none" stroke-width="1" />
<rect x="157.35" y="342.69" width="1.50" height="1.30" fill="#ff1a1a" stroke="none" stroke-width="1" />
<rect x="160.76" y="347.86" width="1.50" height="1.30" fill="#ff1a1a" stroke="none" stroke-width="1" />
<rect x="162.80" y="348.41" width="1.50" height="1.30" fill="#ff1a1a" stroke="none" stroke-width="1" />
<rect x="168.25" y="346.50" width="1.50" height="1.30" fill="#ff1a1a" stroke="none" stroke-width="1" />
<rect x="169.62" y="348.82" width="1.50" height="1.30" fill="#ff1a1a" stroke="none" stroke-width="1" />
<rect x="128.74" y="350.86" width="1.50" height="1.30" fill="#ff1a1a" stroke="none" stroke-width="1" />
<rect x="130.11" y="352.22" width="1.50" height="1.30" fill="#ff1a1a" stroke="none" stroke-width="1" />
<rect x="128.06" y="353.58" width="1.50" height="1.30" fill="#ff1a1a" stroke="none" stroke-width="1" />
<rect x="141.69" y="351.54" width="1.50" height="1.30" fill="#ff1a1a" stroke="none" stroke-width="1" />
<rect x="145.09" y="352.90" width="1.50" height="1.30" fill="#ff1a1a" stroke="none" stroke-width="1" />
<rect x="147.82" y="354.95" width="1.50" height="1.30" fill="#ff1a1a" stroke="none" stroke-width="1" />
<rect x="153.95" y="352.22" width="1.50" height="1.30" fill="#ff1a1a" stroke="none" stroke-width="1" />
<rect x="155.99" y="351.54" width="1.50" height="1.30" fill="#ff1a1a" stroke="none" stroke-width="1" />
<rect x="162.12" y="353.58" width="1.50" height="1.30" fill="#ff1a1a" stroke="none" stroke-width="1" />
<rect x="167.57" y="352.22" width="1.50" height="1.30" fill="#ff1a1a" stroke="none" stroke-width="1" />
<rect x="127.38" y="359.03" width="1.50" height="1.30" fill="#ff1a1a" stroke="none" stroke-width="1" />
<rect x="132.15" y="359.03" width="1.50" height="1.30" fill="#ff1a1a" stroke="none" stroke-width="1" />
<rect x="140.32" y="359.72" width="1.50" height="1.30" fill="#ff1a1a" stroke="none" stroke-width="1" />
<rect x="146.45" y="357.67" width="1.50" height="1.30" fill="#ff1a1a" stroke="none" stroke-width="1" />
<rect x="145.77" y="359.72" width="1.50" height="1.30" fill="#ff1a1a" stroke="none" stroke-width="1" />
<rect x="155.31" y="357.67" width="1.50" height="1.30" fill="#ff1a1a" stroke="none" stroke-width="1" />
<rect x="162.12" y="358.35" width="1.50" height="1.30" fill="#ff1a1a" stroke="none" stroke-width="1" />
<rect x="166.89" y="358.35" width="1.50" height="1.30" fill="#ff1a1a" stroke="none" stroke-width="1" />
<rect x="168.25" y="359.72" width="1.50" height="1.30" fill="#ff1a1a" stroke="none" stroke-width="1" />
<rect x="186.23" y="331.50" width="1.50" height="1.30" fill="#ff1a1a" stroke="none" stroke-width="1" />
<rect x="175.33" y="329.73" width="1.50" height="1.30" fill="#ff1a1a" stroke="none" stroke-width="1" />
<rect x="171.93" y="335.86" width="1.50" height="1.30" fill="#ff1a1a" stroke="none" stroke-width="1" />
<rect x="180.78" y="336.13" width="1.50" height="1.30" fill="#ff1a1a" stroke="none" stroke-width="1" />
<rect x="186.91" y="336.13" width="1.50" height="1.30" fill="#ff1a1a" stroke="none" stroke-width="1" />
<rect x="190.99" y="335.86" width="1.50" height="1.30" fill="#ff1a1a" stroke="none" stroke-width="1" />
<rect x="195.76" y="336.95" width="1.50" height="1.30" fill="#ff1a1a" stroke="none" stroke-width="1" />
<rect x="201.20" y="335.18" width="1.50" height="1.30" fill="#ff1a1a" stroke="none" stroke-width="1" />
<rect x="201.88" y="337.90" width="1.50" height="1.30" fill="#ff1a1a" stroke="none" stroke-width="1" />
<rect x="190.31" y="339.26" width="1.50" height="1.30" fill="#ff1a1a" stroke="none" stroke-width="1" />
<rect x="173.29" y="340.62" width="1.50" height="1.30" fill="#ff1a1a" stroke="none" stroke-width="1" />
<rect x="174.65" y="341.98" width="1.50" height="1.30" fill="#ff1a1a" stroke="none" stroke-width="1" />
<rect x="176.70" y="344.03" width="1.50" height="1.30" fill="#ff1a1a" stroke="none" stroke-width="1" />
<rect x="181.46" y="344.03" width="1.50" height="1.30" fill="#ff1a1a" stroke="none" stroke-width="1" />
<rect x="182.82" y="345.11" width="1.50" height="1.30" fill="#ff1a1a" stroke="none" stroke-width="1" />
<rect x="194.39" y="344.71" width="1.50" height="1.30" fill="#ff1a1a" stroke="none" stroke-width="1" />
<rect x="196.44" y="342.66" width="1.50" height="1.30" fill="#ff1a1a" stroke="none" stroke-width="1" />
<rect x="203.93" y="341.30" width="1.50" height="1.30" fill="#ff1a1a" stroke="none" stroke-width="1" />
<rect x="205.29" y="342.66" width="1.50" height="1.30" fill="#ff1a1a" stroke="none" stroke-width="1" />
<rect x="208.01" y="339.94" width="1.50" height="1.30" fill="#ff1a1a" stroke="none" stroke-width="1" />
<rect x="210.05" y="340.62" width="1.50" height="1.30" fill="#ff1a1a" stroke="none" stroke-width="1" />
<rect x="212.09" y="342.39" width="1.50" height="1.30" fill="#ff1a1a" stroke="none" stroke-width="1" />
<rect x="216.18" y="342.94" width="1.50" height="1.30" fill="#ff1a1a" stroke="none" stroke-width="1" />
<rect x="206.65" y="345.39" width="1.50" height="1.30" fill="#ff1a1a" stroke="none" stroke-width="1" />
<rect x="171.25" y="348.11" width="1.50" height="1.30" fill="#ff1a1a" stroke="none" stroke-width="1" />
<rect x="175.33" y="349.47" width="1.50" height="1.30" fill="#ff1a1a" stroke="none" stroke-width="1" />
<rect x="177.38" y="350.15" width="1.50" height="1.30" fill="#ff1a1a" stroke="none" stroke-width="1" />
<rect x="178.74" y="350.83" width="1.50" height="1.30" fill="#ff1a1a" stroke="none" stroke-width="1" />
<rect x="179.42" y="352.19" width="1.50" height="1.30" fill="#ff1a1a" stroke="none" stroke-width="1" />
<rect x="189.63" y="348.11" width="1.50" height="1.30" fill="#ff1a1a" stroke="none" stroke-width="1" />
<rect x="191.67" y="349.20" width="1.50" height="1.30" fill="#ff1a1a" stroke="none" stroke-width="1" />
<rect x="193.71" y="349.47" width="1.50" height="1.30" fill="#ff1a1a" stroke="none" stroke-width="1" />
<rect x="195.08" y="350.15" width="1.50" height="1.30" fill="#ff1a1a" stroke="none" stroke-width="1" />
<rect x="200.52" y="350.15" width="1.50" height="1.30" fill="#ff1a1a" stroke="none" stroke-width="1" />
<rect x="198.48" y="352.19" width="1.50" height="1.30" fill="#ff1a1a" stroke="none" stroke-width="1" />
<rect x="203.24" y="350.15" width="1.50" height="1.30" fill="#ff1a1a" stroke="none" stroke-width="1" />
<rect x="215.50" y="352.19" width="1.50" height="1.30" fill="#ff1a1a" stroke="none" stroke-width="1" />
<rect x="217.54" y="354.24" width="1.50" height="1.30" fill="#ff1a1a" stroke="none" stroke-width="1" />
<rect x="173.29" y="351.51" width="1.50" height="1.30" fill="#ff1a1a" stroke="none" stroke-width="1" />
<rect x="177.38" y="354.92" width="1.50" height="1.30" fill="#ff1a1a" stroke="none" stroke-width="1" />
<rect x="184.86" y="354.92" width="1.50" height="1.30" fill="#ff1a1a" stroke="none" stroke-width="1" />
<rect x="188.95" y="354.92" width="1.50" height="1.30" fill="#ff1a1a" stroke="none" stroke-width="1" />
<rect x="198.48" y="356.96" width="1.50" height="1.30" fill="#ff1a1a" stroke="none" stroke-width="1" />
<rect x="199.84" y="356.28" width="1.50" height="1.30" fill="#ff1a1a" stroke="none" stroke-width="1" />
<rect x="197.80" y="359.68" width="1.50" height="1.30" fill="#ff1a1a" stroke="none" stroke-width="1" />
<rect x="182.14" y="359.68" width="1.50" height="1.30" fill="#ff1a1a" stroke="none" stroke-width="1" />
<rect x="187.59" y="359.68" width="1.50" height="1.30" fill="#ff1a1a" stroke="none" stroke-width="1" />
<rect x="194.39" y="359.68" width="1.50" height="1.30" fill="#ff1a1a" stroke="none" stroke-width="1" />
<rect x="216.18" y="358.32" width="1.50" height="1.30" fill="#ff1a1a" stroke="none" stroke-width="1" />
<rect x="217.54" y="359.00" width="1.50" height="1.30" fill="#ff1a1a" stroke="none" stroke-width="1" />
<rect x="66.39" y="269.39" width="1.50" height="1.30" fill="#1a1aff" stroke="none" stroke-width="1" />
<rect x="51.15" y="294.50" width="1.50" height="1.30" fill="#1a1aff" stroke="none" stroke-width="1" />
<rect x="72.07" y="301.52" width="1.50" height="1.30" fill="#1a1aff" stroke="none" stroke-width="1" />
<rect x="50.85" y="308.70" width="1.50" height="1.30" fill="#1a1aff" stroke="none" stroke-width="1" />
<rect x="96.74" y="313.93" width="1.50" height="1.30" fill="#1a1aff" stroke="none" stroke-width="1" />
<rect x="39.93" y="316.62" width="1.50" height="1.30" fill="#1a1aff" stroke="none" stroke-width="1" />
<rect x="35.90" y="317.97" width="1.50" height="1.30" fill="#1a1aff" stroke="none" stroke-width="1" />
<rect x="120.65" y="301.52" width="1.50" height="1.30" fill="#1a1aff" stroke="none" stroke-width="1" />
<rect x="131.77" y="296.75" width="1.50" height="1.30" fill="#1a1aff" stroke="none" stroke-width="1" />
<rect x="129.57" y="315.90" width="1.50" height="1.30" fill="#1a1aff" stroke="none" stroke-width="1" />
<rect x="85.56" y="322.93" width="1.50" height="1.30" fill="#1a1aff" stroke="none" stroke-width="1" />
<rect x="76.70" y="324.97" width="1.50" height="1.30" fill="#1a1aff" stroke="none" stroke-width="1" />
<rect x="78.74" y="328.38" width="1.50" height="1.30" fill="#1a1aff" stroke="none" stroke-width="1" />
<rect x="88.96" y="326.06" width="1.50" height="1.30" fill="#1a1aff" stroke="none" stroke-width="1" />
<rect x="91.00" y="328.38" width="1.50" height="1.30" fill="#1a1aff" stroke="none" stroke-width="1" />
<rect x="97.82" y="328.38" width="1.50" height="1.30" fill="#1a1aff" stroke="none" stroke-width="1" />
<rect x="99.86" y="329.06" width="1.50" height="1.30" fill="#1a1aff" stroke="none" stroke-width="1" />
<rect x="95.09" y="331.79" width="1.50" height="1.30" fill="#1a1aff" stroke="none" stroke-width="1" />
<rect x="84.19" y="332.06" width="1.50" height="1.30" fill="#1a1aff" stroke="none" stroke-width="1" />
<rect x="76.02" y="331.10" width="1.50" height="1.30" fill="#1a1aff" stroke="none" stroke-width="1" />
<rect x="118.25" y="324.57" width="1.50" height="1.30" fill="#1a1aff" stroke="none" stroke-width="1" />
<rect x="119.62" y="332.74" width="1.50" height="1.30" fill="#1a1aff" stroke="none" stroke-width="1" />
<rect x="80.11" y="337.24" width="1.50" height="1.30" fill="#1a1aff" stroke="none" stroke-width="1" />
<rect x="95.09" y="337.24" width="1.50" height="1.30" fill="#1a1aff" stroke="none" stroke-width="1" />
<rect x="112.80" y="337.24" width="1.50" height="1.30" fill="#1a1aff" stroke="none" stroke-width="1" />
<rect x="104.63" y="340.64" width="1.50" height="1.30" fill="#1a1aff" stroke="none" stroke-width="1" />
<rect x="81.47" y="342.69" width="1.50" height="1.30" fill="#1a1aff" stroke="none" stroke-width="1" />
<rect x="77.38" y="344.05" width="1.50" height="1.30" fill="#1a1aff" stroke="none" stroke-width="1" />
<rect x="73.29" y="344.73" width="1.50" height="1.30" fill="#1a1aff" stroke="none" stroke-width="1" />
<rect x="88.28" y="344.73" width="1.50" height="1.30" fill="#1a1aff" stroke="none" stroke-width="1" />
<rect x="100.54" y="344.05" width="1.50" height="1.30" fill="#1a1aff" stroke="none" stroke-width="1" />
<rect x="110.08" y="345.41" width="1.50" height="1.30" fill="#1a1aff" stroke="none" stroke-width="1" />
<rect x="111.44" y="346.09" width="1.50" height="1.30" fill="#1a1aff" stroke="none" stroke-width="1" />
<rect x="113.48" y="344.73" width="1.50" height="1.30" fill="#1a1aff" stroke="none" stroke-width="1" />
<rect x="120.30" y="344.73" width="1.50" height="1.30" fill="#1a1aff" stroke="none" stroke-width="1" />
<rect x="78.06" y="348.82" width="1.50" height="1.30" fill="#1a1aff" stroke="none" stroke-width="1" />
<rect x="82.15" y="348.13" width="1.50" height="1.30" fill="#1a1aff" stroke="none" stroke-width="1" />
<rect x="88.96" y="348.82" width="1.50" height="1.30" fill="#1a1aff" stroke="none" stroke-width="1" />
<rect x="102.59" y="349.50" width="1.50" height="1.30" fill="#1a1aff" stroke="none" stroke-width="1" />
<rect x="74.66" y="353.58" width="1.50" height="1.30" fill="#1a1aff" stroke="none" stroke-width="1" />
<rect x="86.92" y="354.27" width="1.50" height="1.30" fill="#1a1aff" stroke="none" stroke-width="1" />
<rect x="91.69" y="354.27" width="1.50" height="1.30" fill="#1a1aff" stroke="none" stroke-width="1" />
<rect x="95.77" y="355.63" width="1.50" height="1.30" fill="#1a1aff" stroke="none" stroke-width="1" />
<rect x="87.60" y="356.31" width="1.50" height="1.30" fill="#1a1aff" stroke="none" stroke-width="1" />
<rect x="80.79" y="356.31" width="1.50" height="1.30" fill="#1a1aff" stroke="none" stroke-width="1" />
<rect x="79.42" y="357.67" width="1.50" height="1.30" fill="#1a1aff" stroke="none" stroke-width="1" />
<rect x="91.69" y="357.67" width="1.50" height="1.30" fill="#1a1aff" stroke="none" stroke-width="1" />
<rect x="93.73" y="359.03" width="1.50" height="1.30" fill="#1a1aff" stroke="none" stroke-width="1" />
<rect x="98.50" y="356.99" width="1.50" height="1.30" fill="#1a1aff" stroke="none" stroke-width="1" />
<rect x="100.54" y="358.35" width="1.50" height="1.30" fill="#1a1aff" stroke="none" stroke-width="1" />
<rect x="105.31" y="355.63" width="1.50" height="1.30" fill="#1a1aff" stroke="none" stroke-width="1" />
<rect x="108.03" y="356.31" width="1.50" height="1.30" fill="#1a1aff" stroke="none" stroke-width="1" />
<rect x="110.08" y="356.99" width="1.50" height="1.30" fill="#1a1aff" stroke="none" stroke-width="1" />
<rect x="112.80" y="356.99" width="1.50" height="1.30" fill="#1a1aff" stroke="none" stroke-width="1" />
<rect x="114.85" y="356.31" width="1.50" height="1.30" fill="#1a1aff" stroke="none" stroke-width="1" />
<rect x="117.57" y="356.31" width="1.50" height="1.30" fill="#1a1aff" stroke="none" stroke-width="1" />
<rect x="120.30" y="355.63" width="1.50" height="1.30" fill="#1a1aff" stroke="none" stroke-width="1" />
<rect x="120.30" y="340.64" width="1.50" height="1.30" fill="#1a1aff" stroke="none" stroke-width="1" />
<rect x="71.25" y="354.95" width="1.50" height="1.30" fill="#1a1aff" stroke="none" stroke-width="1" />
<rect x="38.96" y="322.93" width="1.50" height="1.30" fill="#1a1aff" stroke="none" stroke-width="1" />
<rect x="68.25" y="327.43" width="1.50" height="1.30" fill="#1a1aff" stroke="none" stroke-width="1" />
<rect x="30.79" y="331.10" width="1.50" height="1.30" fill="#1a1aff" stroke="none" stroke-width="1" />
<rect x="32.15" y="332.47" width="1.50" height="1.30" fill="#1a1aff" stroke="none" stroke-width="1" />
<rect x="42.37" y="331.10" width="1.50" height="1.30" fill="#1a1aff" stroke="none" stroke-width="1" />
<rect x="29.42" y="335.87" width="1.50" height="1.30" fill="#1a1aff" stroke="none" stroke-width="1" />
<rect x="33.51" y="335.19" width="1.50" height="1.30" fill="#1a1aff" stroke="none" stroke-width="1" />
<rect x="35.56" y="337.92" width="1.50" height="1.30" fill="#1a1aff" stroke="none" stroke-width="1" />
<rect x="38.96" y="336.55" width="1.50" height="1.30" fill="#1a1aff" stroke="none" stroke-width="1" />
<rect x="48.50" y="337.24" width="1.50" height="1.30" fill="#1a1aff" stroke="none" stroke-width="1" />
<rect x="67.57" y="335.19" width="1.50" height="1.30" fill="#1a1aff" stroke="none" stroke-width="1" />
<rect x="70.30" y="338.60" width="1.50" height="1.30" fill="#1a1aff" stroke="none" stroke-width="1" />
<rect x="52.59" y="340.64" width="1.50" height="1.30" fill="#1a1aff" stroke="none" stroke-width="1" />
<rect x="45.09" y="344.05" width="1.50" height="1.30" fill="#1a1aff" stroke="none" stroke-width="1" />
<rect x="55.31" y="344.73" width="1.50" height="1.30" fill="#1a1aff" stroke="none" stroke-width="1" />
<rect x="56.67" y="346.09" width="1.50" height="1.30" fill="#1a1aff" stroke="none" stroke-width="1" />
<rect x="62.12" y="344.73" width="1.50" height="1.30" fill="#1a1aff" stroke="none" stroke-width="1" />
<rect x="69.62" y="346.09" width="1.50" height="1.30" fill="#1a1aff" stroke="none" stroke-width="1" />
<rect x="31.47" y="346.77" width="1.50" height="1.30" fill="#1a1aff" stroke="none" stroke-width="1" />
<rect x="34.19" y="349.22" width="1.50" height="1.30" fill="#1a1aff" stroke="none" stroke-width="1" />
<rect x="45.77" y="346.77" width="1.50" height="1.30" fill="#1a1aff" stroke="none" stroke-width="1" />
<rect x="49.86" y="348.82" width="1.50" height="1.30" fill="#1a1aff" stroke="none" stroke-width="1" />
<rect x="58.72" y="348.13" width="1.50" height="1.30" fill="#1a1aff" stroke="none" stroke-width="1" />
<rect x="38.28" y="351.95" width="1.50" height="1.30" fill="#1a1aff" stroke="none" stroke-width="1" />
<rect x="37.60" y="353.58" width="1.50" height="1.30" fill="#1a1aff" stroke="none" stroke-width="1" />
<rect x="47.82" y="350.86" width="1.50" height="1.30" fill="#1a1aff" stroke="none" stroke-width="1" />
<rect x="56.67" y="350.18" width="1.50" height="1.30" fill="#1a1aff" stroke="none" stroke-width="1" />
<rect x="70.30" y="355.63" width="1.50" height="1.30" fill="#1a1aff" stroke="none" stroke-width="1" />
<rect x="60.08" y="355.63" width="1.50" height="1.30" fill="#1a1aff" stroke="none" stroke-width="1" />
<rect x="32.15" y="357.67" width="1.50" height="1.30" fill="#1a1aff" stroke="none" stroke-width="1" />
<rect x="42.37" y="356.99" width="1.50" height="1.30" fill="#1a1aff" stroke="none" stroke-width="1" />
<rect x="45.09" y="359.31" width="1.50" height="1.30" fill="#1a1aff" stroke="none" stroke-width="1" />
<rect x="48.50" y="358.76" width="1.50" height="1.30" fill="#1a1aff" stroke="none" stroke-width="1" />
<rect x="49.18" y="355.63" width="1.50" height="1.30" fill="#1a1aff" stroke="none" stroke-width="1" />
<rect x="55.31" y="356.31" width="1.50" height="1.30" fill="#1a1aff" stroke="none" stroke-width="1" />
<rect x="58.72" y="357.67" width="1.50" height="1.30" fill="#1a1aff" stroke="none" stroke-width="1" />
<rect x="60.76" y="357.94" width="1.50" height="1.30" fill="#1a1aff" stroke="none" stroke-width="1" />
<rect x="62.12" y="357.94" width="1.50" height="1.30" fill="#1a1aff" stroke="none" stroke-width="1" />
<rect x="66.21" y="357.67" width="1.50" height="1.30" fill="#1a1aff" stroke="none" stroke-width="1" />
<rect x="53.95" y="358.35" width="1.50" height="1.30" fill="#1a1aff" stroke="none" stroke-width="1" />
<rect x="145.09" y="321.16" width="1.50" height="1.30" fill="#1a1aff" stroke="none" stroke-width="1" />
<rect x="136.92" y="333.83" width="1.50" height="1.30" fill="#1a1aff" stroke="none" stroke-width="1" />
<rect x="134.19" y="339.96" width="1.50" height="1.30" fill="#1a1aff" stroke="none" stroke-width="1" />
<rect x="144.41" y="339.28" width="1.50" height="1.30" fill="#1a1aff" stroke="none" stroke-width="1" />
<rect x="146.45" y="337.24" width="1.50" height="1.30" fill="#1a1aff" stroke="none" stroke-width="1" />
<rect x="151.90" y="337.24" width="1.50" height="1.30" fill="#1a1aff" stroke="none" stroke-width="1" />
<rect x="150.54" y="344.73" width="1.50" height="1.30" fill="#1a1aff" stroke="none" stroke-width="1" />
<rect x="152.59" y="344.05" width="1.50" height="1.30" fill="#1a1aff" stroke="none" stroke-width="1" />
<rect x="153.95" y="345.41" width="1.50" height="1.30" fill="#1a1aff" stroke="none" stroke-width="1" />
<rect x="149.18" y="347.45" width="1.50" height="1.30" fill="#1a1aff" stroke="none" stroke-width="1" />
<rect x="147.82" y="350.18" width="1.50" height="1.30" fill="#1a1aff" stroke="none" stroke-width="1" />
<rect x="150.54" y="351.54" width="1.50" height="1.30" fill="#1a1aff" stroke="none" stroke-width="1" />
<rect x="153.27" y="352.90" width="1.50" height="1.30" fill="#1a1aff" stroke="none" stroke-width="1" />
<rect x="165.53" y="343.78" width="1.50" height="1.30" fill="#1a1aff" stroke="none" stroke-width="1" />
<rect x="170.30" y="343.78" width="1.50" height="1.30" fill="#1a1aff" stroke="none" stroke-width="1" />
<rect x="132.83" y="351.54" width="1.50" height="1.30" fill="#1a1aff" stroke="none" stroke-width="1" />
<rect x="133.51" y="352.90" width="1.50" height="1.30" fill="#1a1aff" stroke="none" stroke-width="1" />
<rect x="143.05" y="350.86" width="1.50" height="1.30" fill="#1a1aff" stroke="none" stroke-width="1" />
<rect x="143.73" y="352.22" width="1.50" height="1.30" fill="#1a1aff" stroke="none" stroke-width="1" />
<rect x="122.61" y="358.35" width="1.50" height="1.30" fill="#1a1aff" stroke="none" stroke-width="1" />
<rect x="124.66" y="356.99" width="1.50" height="1.30" fill="#1a1aff" stroke="none" stroke-width="1" />
<rect x="127.38" y="356.31" width="1.50" height="1.30" fill="#1a1aff" stroke="none" stroke-width="1" />
<rect x="134.87" y="356.31" width="1.50" height="1.30" fill="#1a1aff" stroke="none" stroke-width="1" />
<rect x="136.24" y="357.67" width="1.50" height="1.30" fill="#1a1aff" stroke="none" stroke-width="1" />
<rect x="137.60" y="358.35" width="1.50" height="1.30" fill="#1a1aff" stroke="none" stroke-width="1" />
<rect x="141.69" y="356.99" width="1.50" height="1.30" fill="#1a1aff" stroke="none" stroke-width="1" />
<rect x="142.37" y="359.03" width="1.50" height="1.30" fill="#1a1aff" stroke="none" stroke-width="1" />
<rect x="145.77" y="357.67" width="1.50" height="1.30" fill="#1a1aff" stroke="none" stroke-width="1" />
<rect x="149.86" y="356.31" width="1.50" height="1.30" fill="#1a1aff" stroke="none" stroke-width="1" />
<rect x="153.27" y="357.67" width="1.50" height="1.30" fill="#1a1aff" stroke="none" stroke-width="1" />
<rect x="158.03" y="355.22" width="1.50" height="1.30" fill="#1a1aff" stroke="none" stroke-width="1" />
<rect x="160.08" y="356.04" width="1.50" height="1.30" fill="#1a1aff" stroke="none" stroke-width="1" />
<rect x="164.85" y="359.72" width="1.50" height="1.30" fill="#1a1aff" stroke="none" stroke-width="1" />
<rect x="166.89" y="356.31" width="1.50" height="1.30" fill="#1a1aff" stroke="none" stroke-width="1" />
<rect x="121.93" y="344.05" width="1.50" height="1.30" fill="#1a1aff" stroke="none" stroke-width="1" />
<rect x="187.32" y="324.56" width="1.50" height="1.30" fill="#1a1aff" stroke="none" stroke-width="1" />
<rect x="205.97" y="326.73" width="1.50" height="1.30" fill="#1a1aff" stroke="none" stroke-width="1" />
<rect x="213.73" y="328.10" width="1.50" height="1.30" fill="#1a1aff" stroke="none" stroke-width="1" />
<rect x="211.69" y="332.45" width="1.50" height="1.30" fill="#1a1aff" stroke="none" stroke-width="1" />
<rect x="213.46" y="338.58" width="1.50" height="1.30" fill="#1a1aff" stroke="none" stroke-width="1" />
<rect x="214.14" y="341.30" width="1.50" height="1.30" fill="#1a1aff" stroke="none" stroke-width="1" />
<rect x="183.78" y="339.94" width="1.50" height="1.30" fill="#1a1aff" stroke="none" stroke-width="1" />
<rect x="184.86" y="346.75" width="1.50" height="1.30" fill="#1a1aff" stroke="none" stroke-width="1" />
<rect x="188.95" y="347.43" width="1.50" height="1.30" fill="#1a1aff" stroke="none" stroke-width="1" />
<rect x="209.37" y="347.02" width="1.50" height="1.30" fill="#1a1aff" stroke="none" stroke-width="1" />
<rect x="210.73" y="347.43" width="1.50" height="1.30" fill="#1a1aff" stroke="none" stroke-width="1" />
<rect x="208.01" y="348.79" width="1.50" height="1.30" fill="#1a1aff" stroke="none" stroke-width="1" />
<rect x="203.24" y="350.83" width="1.50" height="1.30" fill="#1a1aff" stroke="none" stroke-width="1" />
<rect x="198.48" y="353.56" width="1.50" height="1.30" fill="#1a1aff" stroke="none" stroke-width="1" />
<rect x="196.44" y="354.24" width="1.50" height="1.30" fill="#1a1aff" stroke="none" stroke-width="1" />
<rect x="186.23" y="354.24" width="1.50" height="1.30" fill="#1a1aff" stroke="none" stroke-width="1" />
<rect x="182.14" y="356.28" width="1.50" height="1.30" fill="#1a1aff" stroke="none" stroke-width="1" />
<rect x="183.50" y="356.96" width="1.50" height="1.30" fill="#1a1aff" stroke="none" stroke-width="1" />
<rect x="176.02" y="356.96" width="1.50" height="1.30" fill="#1a1aff" stroke="none" stroke-width="1" />
<rect x="178.74" y="359.00" width="1.50" height="1.30" fill="#1a1aff" stroke="none" stroke-width="1" />
<rect x="180.78" y="359.00" width="1.50" height="1.30" fill="#1a1aff" stroke="none" stroke-width="1" />
<rect x="191.67" y="357.64" width="1.50" height="1.30" fill="#1a1aff" stroke="none" stroke-width="1" />
<rect x="205.29" y="356.28" width="1.50" height="1.30" fill="#1a1aff" stroke="none" stroke-width="1" />
<rect x="207.33" y="357.64" width="1.50" height="1.30" fill="#1a1aff" stroke="none" stroke-width="1" />
<rect x="208.69" y="358.32" width="1.50" height="1.30" fill="#1a1aff" stroke="none" stroke-width="1" />
<rect x="210.73" y="358.73" width="1.50" height="1.30" fill="#1a1aff" stroke="none" stroke-width="1" />
<rect x="214.82" y="359.00" width="1.50" height="1.30" fill="#1a1aff" stroke="none" stroke-width="1" />
<rect x="196.44" y="359.68" width="1.50" height="1.30" fill="#1a1aff" stroke="none" stroke-width="1" /></svg></body></html>
